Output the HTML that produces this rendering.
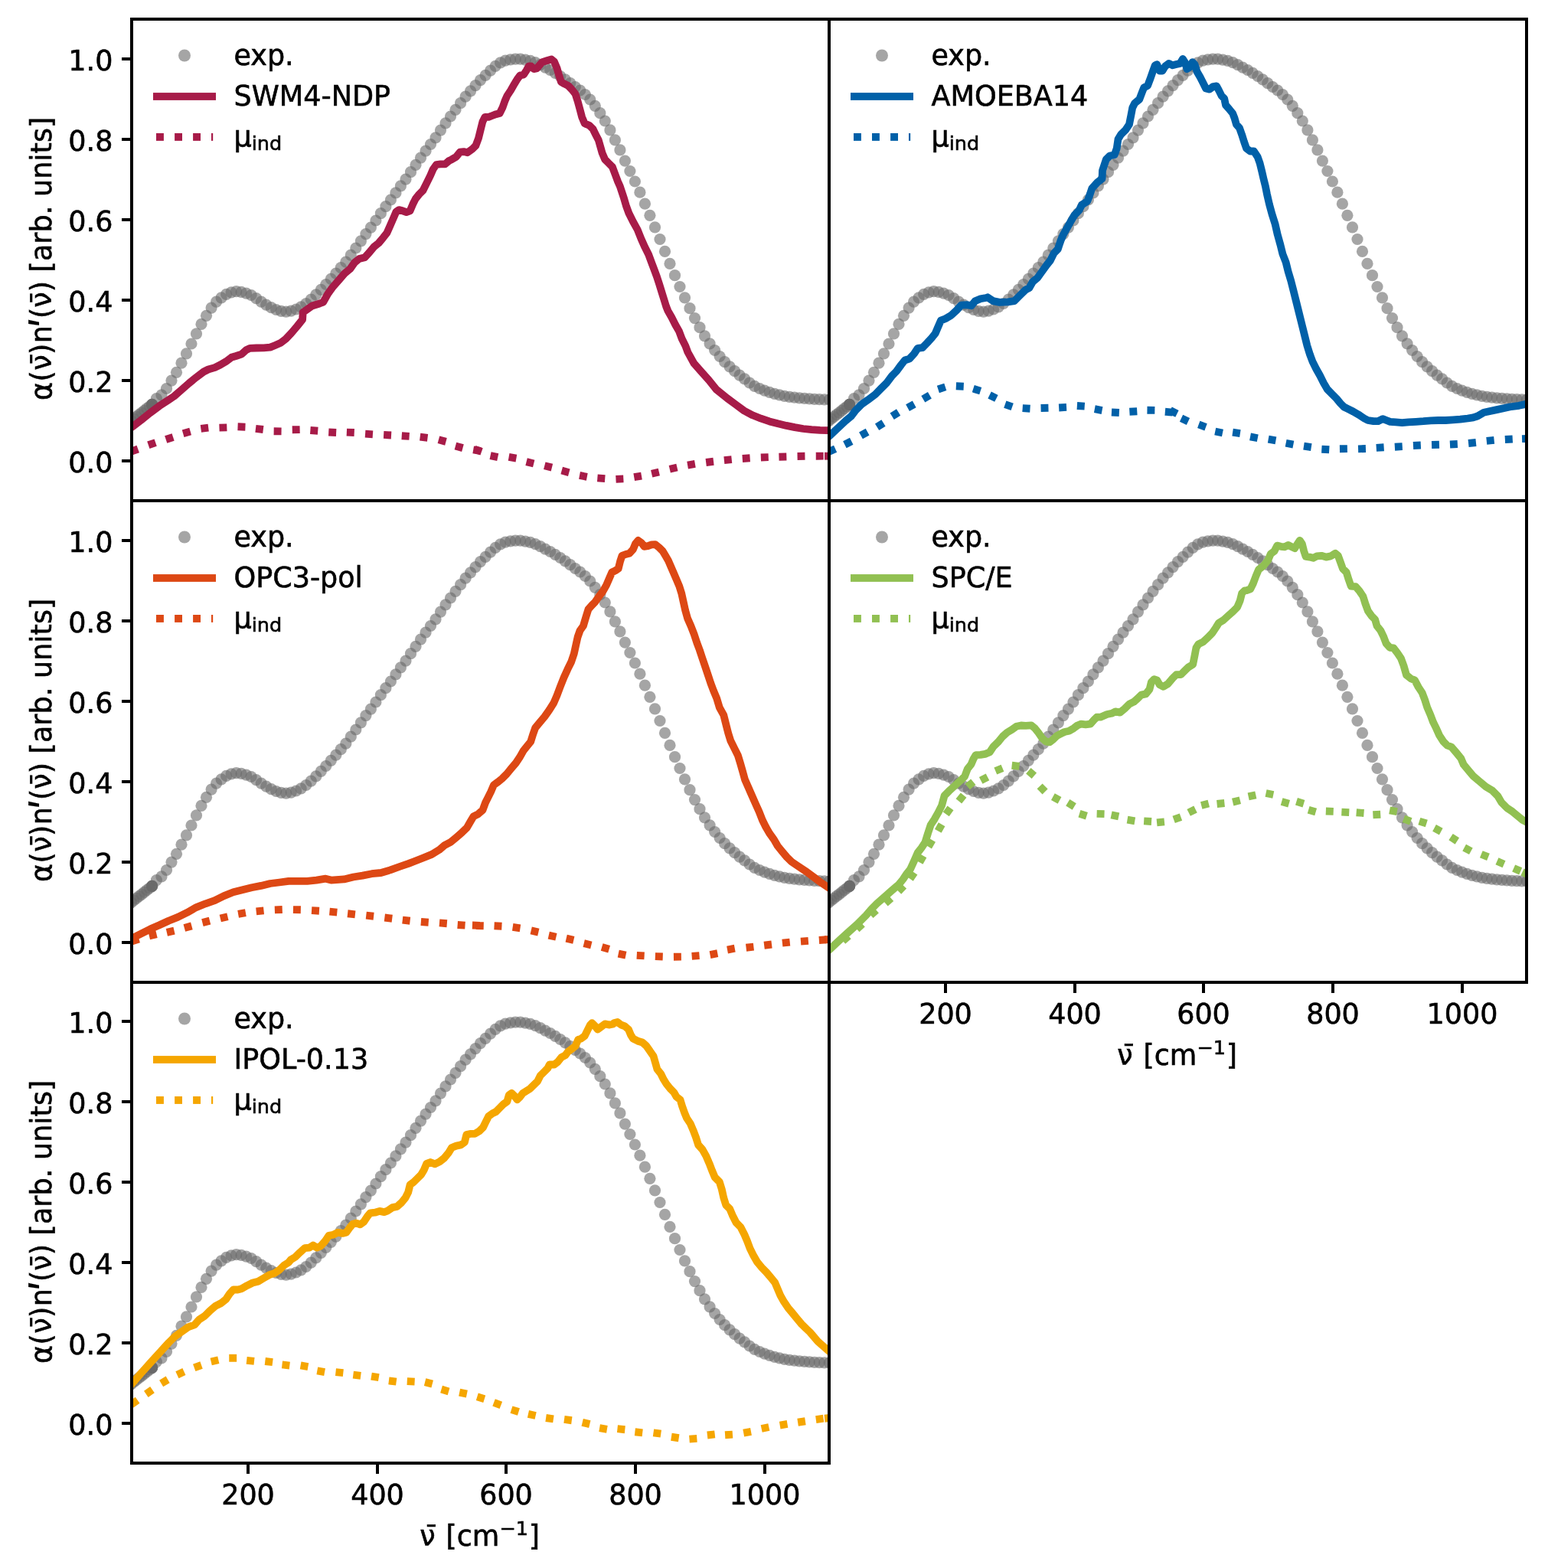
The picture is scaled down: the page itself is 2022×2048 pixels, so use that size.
<!DOCTYPE html>
<html lang="en"><head><meta charset="utf-8"><title>IR spectra</title>
<style>html,body{margin:0;padding:0;background:#fff}svg{display:block}text{font-family:"DejaVu Sans","Liberation Sans",sans-serif;font-size:36.5px;fill:#000;stroke:#000;stroke-width:0.6px}</style></head><body>
<svg xmlns="http://www.w3.org/2000/svg" width="2022" height="2048" viewBox="0 0 2022 2048">
<rect width="2022" height="2048" fill="#fff"/>
<defs>
<clipPath id="c1"><rect x="172" y="25" width="911" height="629"/></clipPath>
<clipPath id="c2"><rect x="1083" y="25" width="911" height="629"/></clipPath>
<clipPath id="c3"><rect x="172" y="654" width="911" height="629"/></clipPath>
<clipPath id="c4"><rect x="1083" y="654" width="911" height="629"/></clipPath>
<clipPath id="c5"><rect x="172" y="1283" width="911" height="628"/></clipPath>
</defs>
<g clip-path="url(#c1)">
<g fill="#696969" fill-opacity="0.6"><circle cx="195.2" cy="531" r="7.6"/><circle cx="191.8" cy="533.7" r="7.6"/><circle cx="188.4" cy="536.4" r="7.6"/><circle cx="185" cy="539.1" r="7.6"/><circle cx="181.6" cy="541.7" r="7.6"/><circle cx="178.2" cy="544.4" r="7.6"/><circle cx="174.8" cy="547" r="7.6"/><circle cx="171.4" cy="549.9" r="7.6"/><circle cx="168" cy="552.7" r="7.6"/><circle cx="164.6" cy="555.6" r="7.6"/><circle cx="161.2" cy="558.5" r="7.6"/><circle cx="198.6" cy="528.3" r="7.6"/><circle cx="198.6" cy="528.3" r="7.6"/><circle cx="198.6" cy="528.3" r="7.6"/><circle cx="198.6" cy="528.3" r="7.6"/><circle cx="204.4" cy="520.6" r="7.6"/><circle cx="211" cy="515.9" r="7.6"/><circle cx="217.5" cy="507.5" r="7.6"/><circle cx="224" cy="497.1" r="7.6"/><circle cx="230.5" cy="486.3" r="7.6"/><circle cx="237" cy="474.2" r="7.6"/><circle cx="243.5" cy="461.9" r="7.6"/><circle cx="250" cy="449" r="7.6"/><circle cx="256.5" cy="435.9" r="7.6"/><circle cx="263" cy="423.4" r="7.6"/><circle cx="269.5" cy="412.3" r="7.6"/><circle cx="276.1" cy="402.1" r="7.6"/><circle cx="282.6" cy="394.1" r="7.6"/><circle cx="289.1" cy="388.9" r="7.6"/><circle cx="295.6" cy="384.4" r="7.6"/><circle cx="302.1" cy="381.8" r="7.6"/><circle cx="308.6" cy="380.7" r="7.6"/><circle cx="315.1" cy="381.4" r="7.6"/><circle cx="321.6" cy="383.2" r="7.6"/><circle cx="328.1" cy="385.5" r="7.6"/><circle cx="334.6" cy="389.7" r="7.6"/><circle cx="341.2" cy="394.1" r="7.6"/><circle cx="347.7" cy="398.2" r="7.6"/><circle cx="354.2" cy="401.7" r="7.6"/><circle cx="360.7" cy="404.5" r="7.6"/><circle cx="367.2" cy="406.3" r="7.6"/><circle cx="373.7" cy="407.2" r="7.6"/><circle cx="380.2" cy="406.1" r="7.6"/><circle cx="386.7" cy="404" r="7.6"/><circle cx="393.2" cy="400.8" r="7.6"/><circle cx="399.8" cy="396.5" r="7.6"/><circle cx="406.3" cy="391.1" r="7.6"/><circle cx="412.8" cy="384.9" r="7.6"/><circle cx="419.3" cy="378.4" r="7.6"/><circle cx="425.8" cy="371.5" r="7.6"/><circle cx="432.3" cy="364.3" r="7.6"/><circle cx="438.8" cy="357.2" r="7.6"/><circle cx="445.3" cy="349.7" r="7.6"/><circle cx="451.8" cy="342.2" r="7.6"/><circle cx="458.3" cy="333.2" r="7.6"/><circle cx="464.8" cy="324" r="7.6"/><circle cx="471.4" cy="314.8" r="7.6"/><circle cx="477.9" cy="305.6" r="7.6"/><circle cx="484.4" cy="297.1" r="7.6"/><circle cx="490.9" cy="288" r="7.6"/><circle cx="497.4" cy="278.7" r="7.6"/><circle cx="503.9" cy="269.7" r="7.6"/><circle cx="510.4" cy="261" r="7.6"/><circle cx="516.9" cy="251.9" r="7.6"/><circle cx="523.4" cy="242.9" r="7.6"/><circle cx="530" cy="234.1" r="7.6"/><circle cx="536.5" cy="224.7" r="7.6"/><circle cx="543" cy="215.3" r="7.6"/><circle cx="549.5" cy="206.2" r="7.6"/><circle cx="556" cy="197.2" r="7.6"/><circle cx="562.5" cy="188.5" r="7.6"/><circle cx="569" cy="179.8" r="7.6"/><circle cx="575.5" cy="170.1" r="7.6"/><circle cx="582" cy="160.9" r="7.6"/><circle cx="588.5" cy="152" r="7.6"/><circle cx="595" cy="143.3" r="7.6"/><circle cx="601.6" cy="134.7" r="7.6"/><circle cx="608.1" cy="126.2" r="7.6"/><circle cx="614.6" cy="118.8" r="7.6"/><circle cx="621.1" cy="111.6" r="7.6"/><circle cx="627.6" cy="104.6" r="7.6"/><circle cx="634.1" cy="98.3" r="7.6"/><circle cx="640.6" cy="92.2" r="7.6"/><circle cx="647.1" cy="86.3" r="7.6"/><circle cx="653.6" cy="81.9" r="7.6"/><circle cx="660.1" cy="79.2" r="7.6"/><circle cx="666.7" cy="77.8" r="7.6"/><circle cx="673.2" cy="77.1" r="7.6"/><circle cx="679.7" cy="77.2" r="7.6"/><circle cx="686.2" cy="78.1" r="7.6"/><circle cx="692.7" cy="79.4" r="7.6"/><circle cx="699.2" cy="81.6" r="7.6"/><circle cx="705.7" cy="84.7" r="7.6"/><circle cx="712.2" cy="88.1" r="7.6"/><circle cx="718.7" cy="91.5" r="7.6"/><circle cx="725.2" cy="95.3" r="7.6"/><circle cx="731.8" cy="99.5" r="7.6"/><circle cx="738.3" cy="103.9" r="7.6"/><circle cx="744.8" cy="108.7" r="7.6"/><circle cx="751.3" cy="113.5" r="7.6"/><circle cx="757.8" cy="118" r="7.6"/><circle cx="764.3" cy="123.5" r="7.6"/><circle cx="770.8" cy="130" r="7.6"/><circle cx="777.3" cy="138.3" r="7.6"/><circle cx="783.8" cy="147.7" r="7.6"/><circle cx="790.3" cy="158" r="7.6"/><circle cx="796.9" cy="169.9" r="7.6"/><circle cx="803.4" cy="182.9" r="7.6"/><circle cx="809.9" cy="195.9" r="7.6"/><circle cx="816.4" cy="210.1" r="7.6"/><circle cx="822.9" cy="223.5" r="7.6"/><circle cx="829.4" cy="237" r="7.6"/><circle cx="835.9" cy="251.2" r="7.6"/><circle cx="842.4" cy="266.2" r="7.6"/><circle cx="848.9" cy="281.3" r="7.6"/><circle cx="855.5" cy="296.9" r="7.6"/><circle cx="862" cy="312.5" r="7.6"/><circle cx="868.5" cy="328.4" r="7.6"/><circle cx="875" cy="344.4" r="7.6"/><circle cx="881.5" cy="359.7" r="7.6"/><circle cx="888" cy="374.5" r="7.6"/><circle cx="894.5" cy="388.9" r="7.6"/><circle cx="901" cy="402.7" r="7.6"/><circle cx="907.5" cy="415.6" r="7.6"/><circle cx="914" cy="427.7" r="7.6"/><circle cx="920.5" cy="438.8" r="7.6"/><circle cx="927.1" cy="448.8" r="7.6"/><circle cx="933.6" cy="457.5" r="7.6"/><circle cx="940.1" cy="465.5" r="7.6"/><circle cx="946.6" cy="472.7" r="7.6"/><circle cx="953.1" cy="478.8" r="7.6"/><circle cx="959.6" cy="484.7" r="7.6"/><circle cx="966.1" cy="490.2" r="7.6"/><circle cx="972.6" cy="494.9" r="7.6"/><circle cx="979.1" cy="500" r="7.6"/><circle cx="985.6" cy="504.4" r="7.6"/><circle cx="992.2" cy="507.5" r="7.6"/><circle cx="998.7" cy="510.1" r="7.6"/><circle cx="1005.2" cy="512.3" r="7.6"/><circle cx="1011.7" cy="514.3" r="7.6"/><circle cx="1018.2" cy="515.9" r="7.6"/><circle cx="1024.7" cy="517.3" r="7.6"/><circle cx="1031.2" cy="518.4" r="7.6"/><circle cx="1037.7" cy="519.2" r="7.6"/><circle cx="1044.2" cy="519.9" r="7.6"/><circle cx="1050.8" cy="520.4" r="7.6"/><circle cx="1057.3" cy="520.9" r="7.6"/><circle cx="1063.8" cy="521.3" r="7.6"/><circle cx="1070.3" cy="521.6" r="7.6"/><circle cx="1076.8" cy="521.8" r="7.6"/><circle cx="1083.3" cy="522" r="7.6"/><circle cx="1089.8" cy="522" r="7.6"/></g>
<g fill="#a71b48"><rect x="-4.95" y="-4.95" width="9.9" height="9.9" transform="translate(175.6 588.2) rotate(-20.2)"/><rect x="-4.95" y="-4.95" width="9.9" height="9.9" transform="translate(198.5 579.7) rotate(-18.9)"/><rect x="-4.95" y="-4.95" width="9.9" height="9.9" transform="translate(221.4 572.5) rotate(-18.3)"/><rect x="-4.95" y="-4.95" width="9.9" height="9.9" transform="translate(243.9 564.8) rotate(-16.1)"/><rect x="-4.95" y="-4.95" width="9.9" height="9.9" transform="translate(267.3 559.2) rotate(-7.5)"/><rect x="-4.95" y="-4.95" width="9.9" height="9.9" transform="translate(291.4 558.5) rotate(-2)"/><rect x="-4.95" y="-4.95" width="9.9" height="9.9" transform="translate(315.5 557.5) rotate(2.3)"/><rect x="-4.95" y="-4.95" width="9.9" height="9.9" transform="translate(338.9 560.4) rotate(7)"/><rect x="-4.95" y="-4.95" width="9.9" height="9.9" transform="translate(362.6 563.3) rotate(0.9)"/><rect x="-4.95" y="-4.95" width="9.9" height="9.9" transform="translate(386.7 561.2) rotate(-1.2)"/><rect x="-4.95" y="-4.95" width="9.9" height="9.9" transform="translate(410.3 562.4) rotate(4.4)"/><rect x="-4.95" y="-4.95" width="9.9" height="9.9" transform="translate(434.2 564.8) rotate(2.9)"/><rect x="-4.95" y="-4.95" width="9.9" height="9.9" transform="translate(457.8 564.8) rotate(2.6)"/><rect x="-4.95" y="-4.95" width="9.9" height="9.9" transform="translate(482 567) rotate(4)"/><rect x="-4.95" y="-4.95" width="9.9" height="9.9" transform="translate(506.1 568.2) rotate(3.2)"/><rect x="-4.95" y="-4.95" width="9.9" height="9.9" transform="translate(529.7 569.6) rotate(3.8)"/><rect x="-4.95" y="-4.95" width="9.9" height="9.9" transform="translate(553.6 571.3) rotate(7.2)"/><rect x="-4.95" y="-4.95" width="9.9" height="9.9" transform="translate(577.7 575.6) rotate(15.2)"/><rect x="-4.95" y="-4.95" width="9.9" height="9.9" transform="translate(599.7 583.8) rotate(15.5)"/><rect x="-4.95" y="-4.95" width="9.9" height="9.9" transform="translate(623.1 588.2) rotate(10)"/><rect x="-4.95" y="-4.95" width="9.9" height="9.9" transform="translate(624.4 588.2) rotate(19.6)"/><rect x="-4.95" y="-4.95" width="9.9" height="9.9" transform="translate(645.4 596.1) rotate(12.1)"/><rect x="-4.95" y="-4.95" width="9.9" height="9.9" transform="translate(669.5 597.8) rotate(9.9)"/><rect x="-4.95" y="-4.95" width="9.9" height="9.9" transform="translate(692.4 604.3) rotate(14)"/><rect x="-4.95" y="-4.95" width="9.9" height="9.9" transform="translate(716.1 609.4) rotate(14.1)"/><rect x="-4.95" y="-4.95" width="9.9" height="9.9" transform="translate(738.5 615.9) rotate(15.3)"/><rect x="-4.95" y="-4.95" width="9.9" height="9.9" transform="translate(761.9 621.9) rotate(10.8)"/><rect x="-4.95" y="-4.95" width="9.9" height="9.9" transform="translate(785.3 624.8) rotate(4.4)"/><rect x="-4.95" y="-4.95" width="9.9" height="9.9" transform="translate(809.4 625.6) rotate(-2.9)"/><rect x="-4.95" y="-4.95" width="9.9" height="9.9" transform="translate(833.1 622.4) rotate(-9.7)"/><rect x="-4.95" y="-4.95" width="9.9" height="9.9" transform="translate(856 617.6) rotate(-13.1)"/><rect x="-4.95" y="-4.95" width="9.9" height="9.9" transform="translate(879.6 611.6) rotate(-13)"/><rect x="-4.95" y="-4.95" width="9.9" height="9.9" transform="translate(903 606.8) rotate(-9.8)"/><rect x="-4.95" y="-4.95" width="9.9" height="9.9" transform="translate(927.1 603.4) rotate(-7.2)"/><rect x="-4.95" y="-4.95" width="9.9" height="9.9" transform="translate(950.8 600.7) rotate(-5.8)"/><rect x="-4.95" y="-4.95" width="9.9" height="9.9" transform="translate(974.7 598.6) rotate(-4)"/><rect x="-4.95" y="-4.95" width="9.9" height="9.9" transform="translate(998.8 597.3) rotate(-2.3)"/><rect x="-4.95" y="-4.95" width="9.9" height="9.9" transform="translate(1022.4 596.6) rotate(-1.7)"/><rect x="-4.95" y="-4.95" width="9.9" height="9.9" transform="translate(1046.5 595.9) rotate(-1.1)"/><rect x="-4.95" y="-4.95" width="9.9" height="9.9" transform="translate(1070.7 595.7) rotate(-0.4)"/><rect x="-4.95" y="-4.95" width="9.9" height="9.9" transform="translate(1082 595.7) rotate(0)"/></g>
<polyline fill="none" stroke="#a71b48" stroke-width="9.8" stroke-linejoin="round" points="160,566.7 167.2,561.5 173.8,556.7 184.1,548.9 196.1,539.2 208.2,530.2 220.2,522.3 227.5,517.5 237.1,509.1 246.8,500.6 256.4,492.8 266.1,485.5 272.1,482.5 280.5,480.1 287.8,476.5 295,472.3 302.3,466.8 308.3,465 315.5,462.6 321.6,457.2 326.4,454.8 334.8,454.5 344.5,454.3 352.9,453.6 358.9,451.2 366.2,448.1 373.4,442.7 380.7,434.9 387.9,426.4 395.1,417.4 395.7,407.9 407.7,399.5 417.4,396.5 422.2,394.7 428.2,383.8 434.3,375.4 442.7,365.7 450,357.3 457.2,351.3 463.2,342.8 469.3,338 476.5,336.2 482.5,329.6 488.5,322.3 494.6,317.5 500.6,310.3 505.4,304.2 509.7,294.6 513.9,284.9 517.5,276.5 521.1,274.1 525.9,275.3 530.8,277.1 535.6,275.3 539.2,266.8 542.8,259.6 547.6,253.6 552.5,248.7 557.3,239.1 562.1,229.4 565.7,221 570,215 575.4,214.4 581.4,214.4 586.2,210.2 590,208.3 596,204.7 600.9,198.7 605.7,198.1 610.5,199.3 616.5,195.1 621.4,190.2 625,180.6 627.4,170.9 630.4,158.9 633.4,152.8 638.2,152.8 643.1,151 647.9,149.2 652.7,148 656.3,140.8 659.3,132.3 662.4,125.1 667.2,117.9 672,109.4 675.6,103.4 679.3,98.6 684.1,97.4 687.7,91.9 690.7,86.5 693.7,86.5 697.3,90.1 701,89.5 704.6,85.3 708.2,81.1 714.2,79.3 720.3,77.5 723.9,80.5 727.5,88.9 729.9,97.4 732.9,107 737.1,109.4 742,111.8 746.8,116.7 751.6,122.7 754.6,132.3 757.6,143.2 760.1,152.8 763.7,161.3 769.7,163.7 774.5,168.5 778.1,175.8 781.8,183 784.2,191.4 786.6,199.9 790.2,208.3 795,213.1 799.9,218 803.5,227.6 807.1,237.3 809.8,243.3 814.6,257.7 818.2,269.8 821.3,278.2 826.7,289.1 832.7,300 837.5,312 842.4,322.9 847.2,332.5 850.8,342.2 854.4,351.8 858,361.5 861.1,371.1 864.1,380.8 867.1,390.4 870.1,400.1 872.5,406.1 877.3,414.5 882.2,424.2 887,432.6 890.6,442.3 895.4,451.9 898.4,460 906.6,474.8 916.3,485.7 925.9,496.5 935.6,508.6 950,520.3 961,528.4 972,536.5 983,542.3 994.1,546.7 1005.1,550.4 1016.1,553.3 1027.1,555.9 1038.1,558.1 1049.1,560 1060.1,561.2 1071.1,561.9 1081.1,562.2 1096.8,562.4"/>
</g>
<circle cx="241" cy="72.5" r="8" fill="#696969" fill-opacity="0.6"/>
<rect x="200" y="121.1" width="82" height="9.8" fill="#a71b48"/>
<rect x="204" y="174" width="9.9" height="9.9" fill="#a71b48"/>
<rect x="228.1" y="174" width="9.9" height="9.9" fill="#a71b48"/>
<rect x="252.1" y="174" width="9.9" height="9.9" fill="#a71b48"/>
<rect x="276" y="174" width="2.2" height="9.9" fill="#a71b48"/>
<text x="305.5" y="85.3">exp.</text>
<text x="305.5" y="138.3">SWM4-NDP</text>
<text x="305.5" y="190.6">μ<tspan font-size="25.5" dy="5.6">ind</tspan></text>
<rect x="172" y="25" width="911" height="629" fill="none" stroke="#000" stroke-width="4"/>
<rect x="159" y="600" width="12" height="4"/>
<text x="147.4" y="616.6" text-anchor="end">0.0</text>
<rect x="159" y="495" width="12" height="4"/>
<text x="147.4" y="511.6" text-anchor="end">0.2</text>
<rect x="159" y="390" width="12" height="4"/>
<text x="147.4" y="406.6" text-anchor="end">0.4</text>
<rect x="159" y="285" width="12" height="4"/>
<text x="147.4" y="301.6" text-anchor="end">0.6</text>
<rect x="159" y="180" width="12" height="4"/>
<text x="147.4" y="196.6" text-anchor="end">0.8</text>
<rect x="159" y="75" width="12" height="4"/>
<text x="147.4" y="91.6" text-anchor="end">1.0</text>
<g transform="translate(67.3 521.5) rotate(-90)">
<text x="-1.6" y="0" textLength="98.1" lengthAdjust="spacing">α(ν)n</text>
<text x="92.2" y="15.8" style="font-size:56.6px;stroke-width:0.1px">ʹ</text>
<text x="105.4" y="0" textLength="263.4" lengthAdjust="spacing">(ν) [arb. units]</text>
<text x="43.6" y="0">¯</text>
<text x="123.2" y="0">¯</text>
</g>
<g clip-path="url(#c2)">
<g fill="#696969" fill-opacity="0.6"><circle cx="1106.2" cy="531" r="7.6"/><circle cx="1102.8" cy="533.7" r="7.6"/><circle cx="1099.4" cy="536.4" r="7.6"/><circle cx="1096" cy="539.1" r="7.6"/><circle cx="1092.6" cy="541.7" r="7.6"/><circle cx="1089.2" cy="544.4" r="7.6"/><circle cx="1085.8" cy="547" r="7.6"/><circle cx="1082.4" cy="549.9" r="7.6"/><circle cx="1079" cy="552.7" r="7.6"/><circle cx="1075.6" cy="555.6" r="7.6"/><circle cx="1072.2" cy="558.5" r="7.6"/><circle cx="1109.6" cy="528.3" r="7.6"/><circle cx="1109.6" cy="528.3" r="7.6"/><circle cx="1109.6" cy="528.3" r="7.6"/><circle cx="1109.6" cy="528.3" r="7.6"/><circle cx="1115.5" cy="520.6" r="7.6"/><circle cx="1122" cy="515.9" r="7.6"/><circle cx="1128.5" cy="507.5" r="7.6"/><circle cx="1135" cy="497.1" r="7.6"/><circle cx="1141.5" cy="486.3" r="7.6"/><circle cx="1148" cy="474.2" r="7.6"/><circle cx="1154.5" cy="461.9" r="7.6"/><circle cx="1161" cy="449" r="7.6"/><circle cx="1167.5" cy="435.9" r="7.6"/><circle cx="1174" cy="423.4" r="7.6"/><circle cx="1180.5" cy="412.3" r="7.6"/><circle cx="1187.1" cy="402.1" r="7.6"/><circle cx="1193.6" cy="394.1" r="7.6"/><circle cx="1200.1" cy="388.9" r="7.6"/><circle cx="1206.6" cy="384.4" r="7.6"/><circle cx="1213.1" cy="381.8" r="7.6"/><circle cx="1219.6" cy="380.7" r="7.6"/><circle cx="1226.1" cy="381.4" r="7.6"/><circle cx="1232.6" cy="383.2" r="7.6"/><circle cx="1239.1" cy="385.5" r="7.6"/><circle cx="1245.7" cy="389.7" r="7.6"/><circle cx="1252.2" cy="394.1" r="7.6"/><circle cx="1258.7" cy="398.2" r="7.6"/><circle cx="1265.2" cy="401.7" r="7.6"/><circle cx="1271.7" cy="404.5" r="7.6"/><circle cx="1278.2" cy="406.3" r="7.6"/><circle cx="1284.7" cy="407.2" r="7.6"/><circle cx="1291.2" cy="406.1" r="7.6"/><circle cx="1297.7" cy="404" r="7.6"/><circle cx="1304.2" cy="400.8" r="7.6"/><circle cx="1310.8" cy="396.5" r="7.6"/><circle cx="1317.3" cy="391.1" r="7.6"/><circle cx="1323.8" cy="384.9" r="7.6"/><circle cx="1330.3" cy="378.4" r="7.6"/><circle cx="1336.8" cy="371.5" r="7.6"/><circle cx="1343.3" cy="364.3" r="7.6"/><circle cx="1349.8" cy="357.2" r="7.6"/><circle cx="1356.3" cy="349.7" r="7.6"/><circle cx="1362.8" cy="342.2" r="7.6"/><circle cx="1369.3" cy="333.2" r="7.6"/><circle cx="1375.8" cy="324" r="7.6"/><circle cx="1382.4" cy="314.8" r="7.6"/><circle cx="1388.9" cy="305.6" r="7.6"/><circle cx="1395.4" cy="297.1" r="7.6"/><circle cx="1401.9" cy="288" r="7.6"/><circle cx="1408.4" cy="278.7" r="7.6"/><circle cx="1414.9" cy="269.7" r="7.6"/><circle cx="1421.4" cy="261" r="7.6"/><circle cx="1427.9" cy="251.9" r="7.6"/><circle cx="1434.4" cy="242.9" r="7.6"/><circle cx="1441" cy="234.1" r="7.6"/><circle cx="1447.5" cy="224.7" r="7.6"/><circle cx="1454" cy="215.3" r="7.6"/><circle cx="1460.5" cy="206.2" r="7.6"/><circle cx="1467" cy="197.2" r="7.6"/><circle cx="1473.5" cy="188.5" r="7.6"/><circle cx="1480" cy="179.8" r="7.6"/><circle cx="1486.5" cy="170.1" r="7.6"/><circle cx="1493" cy="160.9" r="7.6"/><circle cx="1499.5" cy="152" r="7.6"/><circle cx="1506" cy="143.3" r="7.6"/><circle cx="1512.6" cy="134.7" r="7.6"/><circle cx="1519.1" cy="126.2" r="7.6"/><circle cx="1525.6" cy="118.8" r="7.6"/><circle cx="1532.1" cy="111.6" r="7.6"/><circle cx="1538.6" cy="104.6" r="7.6"/><circle cx="1545.1" cy="98.3" r="7.6"/><circle cx="1551.6" cy="92.2" r="7.6"/><circle cx="1558.1" cy="86.3" r="7.6"/><circle cx="1564.6" cy="81.9" r="7.6"/><circle cx="1571.2" cy="79.2" r="7.6"/><circle cx="1577.7" cy="77.8" r="7.6"/><circle cx="1584.2" cy="77.1" r="7.6"/><circle cx="1590.7" cy="77.2" r="7.6"/><circle cx="1597.2" cy="78.1" r="7.6"/><circle cx="1603.7" cy="79.4" r="7.6"/><circle cx="1610.2" cy="81.6" r="7.6"/><circle cx="1616.7" cy="84.7" r="7.6"/><circle cx="1623.2" cy="88.1" r="7.6"/><circle cx="1629.7" cy="91.5" r="7.6"/><circle cx="1636.2" cy="95.3" r="7.6"/><circle cx="1642.8" cy="99.5" r="7.6"/><circle cx="1649.3" cy="103.9" r="7.6"/><circle cx="1655.8" cy="108.7" r="7.6"/><circle cx="1662.3" cy="113.5" r="7.6"/><circle cx="1668.8" cy="118" r="7.6"/><circle cx="1675.3" cy="123.5" r="7.6"/><circle cx="1681.8" cy="130" r="7.6"/><circle cx="1688.3" cy="138.3" r="7.6"/><circle cx="1694.8" cy="147.7" r="7.6"/><circle cx="1701.3" cy="158" r="7.6"/><circle cx="1707.9" cy="169.9" r="7.6"/><circle cx="1714.4" cy="182.9" r="7.6"/><circle cx="1720.9" cy="195.9" r="7.6"/><circle cx="1727.4" cy="210.1" r="7.6"/><circle cx="1733.9" cy="223.5" r="7.6"/><circle cx="1740.4" cy="237" r="7.6"/><circle cx="1746.9" cy="251.2" r="7.6"/><circle cx="1753.4" cy="266.2" r="7.6"/><circle cx="1759.9" cy="281.3" r="7.6"/><circle cx="1766.5" cy="296.9" r="7.6"/><circle cx="1773" cy="312.5" r="7.6"/><circle cx="1779.5" cy="328.4" r="7.6"/><circle cx="1786" cy="344.4" r="7.6"/><circle cx="1792.5" cy="359.7" r="7.6"/><circle cx="1799" cy="374.5" r="7.6"/><circle cx="1805.5" cy="388.9" r="7.6"/><circle cx="1812" cy="402.7" r="7.6"/><circle cx="1818.5" cy="415.6" r="7.6"/><circle cx="1825" cy="427.7" r="7.6"/><circle cx="1831.5" cy="438.8" r="7.6"/><circle cx="1838.1" cy="448.8" r="7.6"/><circle cx="1844.6" cy="457.5" r="7.6"/><circle cx="1851.1" cy="465.5" r="7.6"/><circle cx="1857.6" cy="472.7" r="7.6"/><circle cx="1864.1" cy="478.8" r="7.6"/><circle cx="1870.6" cy="484.7" r="7.6"/><circle cx="1877.1" cy="490.2" r="7.6"/><circle cx="1883.6" cy="494.9" r="7.6"/><circle cx="1890.1" cy="500" r="7.6"/><circle cx="1896.6" cy="504.4" r="7.6"/><circle cx="1903.2" cy="507.5" r="7.6"/><circle cx="1909.7" cy="510.1" r="7.6"/><circle cx="1916.2" cy="512.3" r="7.6"/><circle cx="1922.7" cy="514.3" r="7.6"/><circle cx="1929.2" cy="515.9" r="7.6"/><circle cx="1935.7" cy="517.3" r="7.6"/><circle cx="1942.2" cy="518.4" r="7.6"/><circle cx="1948.7" cy="519.2" r="7.6"/><circle cx="1955.2" cy="519.9" r="7.6"/><circle cx="1961.8" cy="520.4" r="7.6"/><circle cx="1968.3" cy="520.9" r="7.6"/><circle cx="1974.8" cy="521.3" r="7.6"/><circle cx="1981.3" cy="521.6" r="7.6"/><circle cx="1987.8" cy="521.8" r="7.6"/><circle cx="1994.3" cy="522" r="7.6"/><circle cx="2000.8" cy="522" r="7.6"/></g>
<g fill="#0060a8"><rect x="-4.95" y="-4.95" width="9.9" height="9.9" transform="translate(1086.6 588.2) rotate(-24.4)"/><rect x="-4.95" y="-4.95" width="9.9" height="9.9" transform="translate(1107.8 578.5) rotate(-27.2)"/><rect x="-4.95" y="-4.95" width="9.9" height="9.9" transform="translate(1128.8 566.5) rotate(-29.1)"/><rect x="-4.95" y="-4.95" width="9.9" height="9.9" transform="translate(1149.8 555.1) rotate(-32)"/><rect x="-4.95" y="-4.95" width="9.9" height="9.9" transform="translate(1169.4 541.1) rotate(-31.8)"/><rect x="-4.95" y="-4.95" width="9.9" height="9.9" transform="translate(1189.9 530.3) rotate(-28.8)"/><rect x="-4.95" y="-4.95" width="9.9" height="9.9" transform="translate(1210.1 518.7) rotate(-30.1)"/><rect x="-4.95" y="-4.95" width="9.9" height="9.9" transform="translate(1230.1 506.9) rotate(-18.1)"/><rect x="-4.95" y="-4.95" width="9.9" height="9.9" transform="translate(1253.8 504.5) rotate(2.7)"/><rect x="-4.95" y="-4.95" width="9.9" height="9.9" transform="translate(1276 509.1) rotate(17.7)"/><rect x="-4.95" y="-4.95" width="9.9" height="9.9" transform="translate(1297 518.2) rotate(26.6)"/><rect x="-4.95" y="-4.95" width="9.9" height="9.9" transform="translate(1317.5 529.8) rotate(19.2)"/><rect x="-4.95" y="-4.95" width="9.9" height="9.9" transform="translate(1340.6 533.4) rotate(3.8)"/><rect x="-4.95" y="-4.95" width="9.9" height="9.9" transform="translate(1364.5 532.9) rotate(-1.5)"/><rect x="-4.95" y="-4.95" width="9.9" height="9.9" transform="translate(1388.1 532.2) rotate(-3.2)"/><rect x="-4.95" y="-4.95" width="9.9" height="9.9" transform="translate(1411.8 530.3) rotate(3.6)"/><rect x="-4.95" y="-4.95" width="9.9" height="9.9" transform="translate(1434.7 535.1) rotate(10.6)"/><rect x="-4.95" y="-4.95" width="9.9" height="9.9" transform="translate(1456.9 538.7) rotate(3)"/><rect x="-4.95" y="-4.95" width="9.9" height="9.9" transform="translate(1480.3 537.5) rotate(-3.6)"/><rect x="-4.95" y="-4.95" width="9.9" height="9.9" transform="translate(1503.4 535.8) rotate(0.9)"/><rect x="-4.95" y="-4.95" width="9.9" height="9.9" transform="translate(1526.8 538.2) rotate(4.7)"/><rect x="-4.95" y="-4.95" width="9.9" height="9.9" transform="translate(1533 538.2) rotate(26.2)"/><rect x="-4.95" y="-4.95" width="9.9" height="9.9" transform="translate(1547.5 548.4) rotate(25.5)"/><rect x="-4.95" y="-4.95" width="9.9" height="9.9" transform="translate(1570.4 556.1) rotate(19.9)"/><rect x="-4.95" y="-4.95" width="9.9" height="9.9" transform="translate(1592.1 564.5) rotate(11.6)"/><rect x="-4.95" y="-4.95" width="9.9" height="9.9" transform="translate(1615 565.3) rotate(8.4)"/><rect x="-4.95" y="-4.95" width="9.9" height="9.9" transform="translate(1637.9 571.3) rotate(11.1)"/><rect x="-4.95" y="-4.95" width="9.9" height="9.9" transform="translate(1661.6 574.4) rotate(10.3)"/><rect x="-4.95" y="-4.95" width="9.9" height="9.9" transform="translate(1684.5 579.7) rotate(10.9)"/><rect x="-4.95" y="-4.95" width="9.9" height="9.9" transform="translate(1707.9 583.4) rotate(8.8)"/><rect x="-4.95" y="-4.95" width="9.9" height="9.9" transform="translate(1731.3 587) rotate(3.5)"/><rect x="-4.95" y="-4.95" width="9.9" height="9.9" transform="translate(1754.9 586.2) rotate(-0.9)"/><rect x="-4.95" y="-4.95" width="9.9" height="9.9" transform="translate(1779 586.2) rotate(-2)"/><rect x="-4.95" y="-4.95" width="9.9" height="9.9" transform="translate(1802.7 584.6) rotate(-3.5)"/><rect x="-4.95" y="-4.95" width="9.9" height="9.9" transform="translate(1826.8 583.4) rotate(-3.4)"/><rect x="-4.95" y="-4.95" width="9.9" height="9.9" transform="translate(1850.9 581.7) rotate(-2.9)"/><rect x="-4.95" y="-4.95" width="9.9" height="9.9" transform="translate(1875 580.9) rotate(-1.7)"/><rect x="-4.95" y="-4.95" width="9.9" height="9.9" transform="translate(1898.9 580.2) rotate(-2.9)"/><rect x="-4.95" y="-4.95" width="9.9" height="9.9" transform="translate(1923 578.5) rotate(-5.8)"/><rect x="-4.95" y="-4.95" width="9.9" height="9.9" transform="translate(1946.7 575.4) rotate(-5.8)"/><rect x="-4.95" y="-4.95" width="9.9" height="9.9" transform="translate(1970.8 573.7) rotate(-3)"/><rect x="-4.95" y="-4.95" width="9.9" height="9.9" transform="translate(1993 573) rotate(-1.9)"/></g>
<polyline fill="none" stroke="#0060a8" stroke-width="9.8" stroke-linejoin="round" points="1071,581.2 1078.2,574.4 1084.8,568.1 1095.1,558.5 1104.7,549.5 1111.9,543.4 1118,535.6 1125.2,528.3 1133.7,522.3 1143.3,515.1 1150.5,507.8 1157.8,500.6 1165,491 1171,484.9 1177.1,476.5 1181.9,470.5 1187.9,468.6 1194,462 1198.8,454.8 1204.8,454.2 1210.8,448.1 1216.9,441.5 1221.7,435.5 1225.3,427 1228.9,418.6 1235,416.2 1242.2,412 1249.4,405.3 1255.5,398.7 1262.7,398.1 1268.7,399.3 1273.6,393.3 1280.8,390.3 1288,389 1290,388.3 1297.2,393.1 1305.7,394.9 1316.5,394.3 1325,393.1 1332.2,385.9 1339.4,378.7 1344.3,376.2 1349.1,367.8 1355.1,363 1361.2,354.5 1367.2,346.1 1372,340.1 1376.8,330.4 1381.7,325.6 1385.3,314.7 1388.9,306.3 1393.7,297.8 1398.5,289.4 1403.4,281 1409.4,274.9 1413,267.7 1420.3,262.9 1423.9,253.2 1426.3,246 1433.5,238.1 1439.6,233.3 1440,222.8 1444.8,208.3 1449.6,203.5 1455.7,202.3 1458.7,193.9 1460.5,181.8 1464.1,175.8 1470.2,169.7 1475,162.5 1477.4,150.4 1479.2,140.8 1482.2,134.8 1488.2,129.9 1491.9,120.3 1494.3,114.3 1499.1,111.8 1502.7,102.2 1505.7,93.7 1508.7,85.3 1511.2,84.1 1514.8,92.5 1518.4,92.5 1522,86.5 1526.8,82.9 1531.7,85.3 1536.5,84.1 1541.3,82.9 1544.9,76.9 1547.9,81.7 1550.4,90.1 1554,87.7 1557.6,81.1 1560.6,84.1 1563.6,93.7 1567.8,101 1572.1,109.4 1575.1,115.5 1579.9,116.7 1584.7,113 1589,112.4 1592,117.9 1595.6,125.1 1599.2,128.7 1601,137.2 1605.2,142 1610.1,148 1612.5,154.1 1614.9,162.5 1619.1,167.3 1622.1,175.8 1625.1,185.4 1628.1,193.9 1633,197.5 1637.8,197.5 1642.6,204.7 1645.6,213.1 1648,222.8 1650.5,233.7 1652.9,243.3 1654.9,253.3 1657.9,266.5 1661.5,279.8 1665.7,293.1 1668.7,306.3 1672.4,319.6 1675.4,331.7 1679.6,342.5 1682.6,354.6 1686.2,366.6 1689.3,378.7 1692.3,390.8 1695.3,402.8 1698.3,414.9 1701.3,426.9 1704.3,439 1707.3,451.1 1710.9,462.7 1714.5,472.4 1719.3,482 1724.1,490.5 1728.9,500.1 1733.8,508.5 1739.8,514.6 1745.8,520.6 1750.7,526.6 1755.5,531.5 1760.3,533.9 1767.5,537.5 1774.8,541.7 1782,546.5 1786.8,549 1794.1,550.2 1800.1,550.2 1806.1,547.1 1811,549 1815.8,550.8 1823,551.4 1831.5,552.2 1839.9,551.4 1849.6,550.8 1859.2,550.2 1868.9,549.3 1878.5,549 1888.1,549 1897.8,548.3 1907.4,547.7 1917.1,546.5 1924.3,545.3 1930,543.5 1938.2,538.7 1955.1,535.1 1972,531.5 1984.1,529.8 1993,527.9 2005.8,525.5"/>
</g>
<circle cx="1152" cy="72.5" r="8" fill="#696969" fill-opacity="0.6"/>
<rect x="1111" y="121.1" width="82" height="9.8" fill="#0060a8"/>
<rect x="1115" y="174" width="9.9" height="9.9" fill="#0060a8"/>
<rect x="1139" y="174" width="9.9" height="9.9" fill="#0060a8"/>
<rect x="1163.1" y="174" width="9.9" height="9.9" fill="#0060a8"/>
<rect x="1187" y="174" width="2.2" height="9.9" fill="#0060a8"/>
<text x="1216.5" y="85.3">exp.</text>
<text x="1216.5" y="138.3">AMOEBA14</text>
<text x="1216.5" y="190.6">μ<tspan font-size="25.5" dy="5.6">ind</tspan></text>
<rect x="1083" y="25" width="911" height="629" fill="none" stroke="#000" stroke-width="4"/>
<g clip-path="url(#c3)">
<g fill="#696969" fill-opacity="0.6"><circle cx="195.2" cy="1160" r="7.6"/><circle cx="191.8" cy="1162.7" r="7.6"/><circle cx="188.4" cy="1165.4" r="7.6"/><circle cx="185" cy="1168.1" r="7.6"/><circle cx="181.6" cy="1170.7" r="7.6"/><circle cx="178.2" cy="1173.4" r="7.6"/><circle cx="174.8" cy="1176" r="7.6"/><circle cx="171.4" cy="1178.9" r="7.6"/><circle cx="168" cy="1181.7" r="7.6"/><circle cx="164.6" cy="1184.6" r="7.6"/><circle cx="161.2" cy="1187.5" r="7.6"/><circle cx="198.6" cy="1157.3" r="7.6"/><circle cx="198.6" cy="1157.3" r="7.6"/><circle cx="198.6" cy="1157.3" r="7.6"/><circle cx="198.6" cy="1157.3" r="7.6"/><circle cx="204.4" cy="1149.6" r="7.6"/><circle cx="211" cy="1144.9" r="7.6"/><circle cx="217.5" cy="1136.5" r="7.6"/><circle cx="224" cy="1126.1" r="7.6"/><circle cx="230.5" cy="1115.3" r="7.6"/><circle cx="237" cy="1103.2" r="7.6"/><circle cx="243.5" cy="1090.9" r="7.6"/><circle cx="250" cy="1078" r="7.6"/><circle cx="256.5" cy="1064.9" r="7.6"/><circle cx="263" cy="1052.4" r="7.6"/><circle cx="269.5" cy="1041.3" r="7.6"/><circle cx="276.1" cy="1031.1" r="7.6"/><circle cx="282.6" cy="1023.1" r="7.6"/><circle cx="289.1" cy="1017.9" r="7.6"/><circle cx="295.6" cy="1013.4" r="7.6"/><circle cx="302.1" cy="1010.8" r="7.6"/><circle cx="308.6" cy="1009.7" r="7.6"/><circle cx="315.1" cy="1010.4" r="7.6"/><circle cx="321.6" cy="1012.2" r="7.6"/><circle cx="328.1" cy="1014.5" r="7.6"/><circle cx="334.6" cy="1018.7" r="7.6"/><circle cx="341.2" cy="1023.1" r="7.6"/><circle cx="347.7" cy="1027.2" r="7.6"/><circle cx="354.2" cy="1030.7" r="7.6"/><circle cx="360.7" cy="1033.5" r="7.6"/><circle cx="367.2" cy="1035.3" r="7.6"/><circle cx="373.7" cy="1036.2" r="7.6"/><circle cx="380.2" cy="1035.1" r="7.6"/><circle cx="386.7" cy="1033" r="7.6"/><circle cx="393.2" cy="1029.8" r="7.6"/><circle cx="399.8" cy="1025.5" r="7.6"/><circle cx="406.3" cy="1020.1" r="7.6"/><circle cx="412.8" cy="1013.9" r="7.6"/><circle cx="419.3" cy="1007.4" r="7.6"/><circle cx="425.8" cy="1000.5" r="7.6"/><circle cx="432.3" cy="993.3" r="7.6"/><circle cx="438.8" cy="986.2" r="7.6"/><circle cx="445.3" cy="978.7" r="7.6"/><circle cx="451.8" cy="971.2" r="7.6"/><circle cx="458.3" cy="962.2" r="7.6"/><circle cx="464.8" cy="953" r="7.6"/><circle cx="471.4" cy="943.8" r="7.6"/><circle cx="477.9" cy="934.6" r="7.6"/><circle cx="484.4" cy="926.1" r="7.6"/><circle cx="490.9" cy="917" r="7.6"/><circle cx="497.4" cy="907.7" r="7.6"/><circle cx="503.9" cy="898.7" r="7.6"/><circle cx="510.4" cy="890" r="7.6"/><circle cx="516.9" cy="880.9" r="7.6"/><circle cx="523.4" cy="871.9" r="7.6"/><circle cx="530" cy="863.1" r="7.6"/><circle cx="536.5" cy="853.7" r="7.6"/><circle cx="543" cy="844.3" r="7.6"/><circle cx="549.5" cy="835.2" r="7.6"/><circle cx="556" cy="826.2" r="7.6"/><circle cx="562.5" cy="817.5" r="7.6"/><circle cx="569" cy="808.8" r="7.6"/><circle cx="575.5" cy="799.1" r="7.6"/><circle cx="582" cy="789.9" r="7.6"/><circle cx="588.5" cy="781" r="7.6"/><circle cx="595" cy="772.3" r="7.6"/><circle cx="601.6" cy="763.7" r="7.6"/><circle cx="608.1" cy="755.2" r="7.6"/><circle cx="614.6" cy="747.8" r="7.6"/><circle cx="621.1" cy="740.6" r="7.6"/><circle cx="627.6" cy="733.6" r="7.6"/><circle cx="634.1" cy="727.3" r="7.6"/><circle cx="640.6" cy="721.2" r="7.6"/><circle cx="647.1" cy="715.3" r="7.6"/><circle cx="653.6" cy="710.9" r="7.6"/><circle cx="660.1" cy="708.2" r="7.6"/><circle cx="666.7" cy="706.8" r="7.6"/><circle cx="673.2" cy="706.1" r="7.6"/><circle cx="679.7" cy="706.2" r="7.6"/><circle cx="686.2" cy="707.1" r="7.6"/><circle cx="692.7" cy="708.4" r="7.6"/><circle cx="699.2" cy="710.6" r="7.6"/><circle cx="705.7" cy="713.7" r="7.6"/><circle cx="712.2" cy="717.1" r="7.6"/><circle cx="718.7" cy="720.5" r="7.6"/><circle cx="725.2" cy="724.3" r="7.6"/><circle cx="731.8" cy="728.5" r="7.6"/><circle cx="738.3" cy="732.9" r="7.6"/><circle cx="744.8" cy="737.7" r="7.6"/><circle cx="751.3" cy="742.5" r="7.6"/><circle cx="757.8" cy="747" r="7.6"/><circle cx="764.3" cy="752.5" r="7.6"/><circle cx="770.8" cy="759" r="7.6"/><circle cx="777.3" cy="767.3" r="7.6"/><circle cx="783.8" cy="776.7" r="7.6"/><circle cx="790.3" cy="787" r="7.6"/><circle cx="796.9" cy="798.9" r="7.6"/><circle cx="803.4" cy="811.9" r="7.6"/><circle cx="809.9" cy="824.9" r="7.6"/><circle cx="816.4" cy="839.1" r="7.6"/><circle cx="822.9" cy="852.5" r="7.6"/><circle cx="829.4" cy="866" r="7.6"/><circle cx="835.9" cy="880.2" r="7.6"/><circle cx="842.4" cy="895.2" r="7.6"/><circle cx="848.9" cy="910.3" r="7.6"/><circle cx="855.5" cy="925.9" r="7.6"/><circle cx="862" cy="941.5" r="7.6"/><circle cx="868.5" cy="957.4" r="7.6"/><circle cx="875" cy="973.4" r="7.6"/><circle cx="881.5" cy="988.7" r="7.6"/><circle cx="888" cy="1003.5" r="7.6"/><circle cx="894.5" cy="1017.9" r="7.6"/><circle cx="901" cy="1031.7" r="7.6"/><circle cx="907.5" cy="1044.6" r="7.6"/><circle cx="914" cy="1056.7" r="7.6"/><circle cx="920.5" cy="1067.8" r="7.6"/><circle cx="927.1" cy="1077.8" r="7.6"/><circle cx="933.6" cy="1086.5" r="7.6"/><circle cx="940.1" cy="1094.5" r="7.6"/><circle cx="946.6" cy="1101.7" r="7.6"/><circle cx="953.1" cy="1107.8" r="7.6"/><circle cx="959.6" cy="1113.7" r="7.6"/><circle cx="966.1" cy="1119.2" r="7.6"/><circle cx="972.6" cy="1123.9" r="7.6"/><circle cx="979.1" cy="1129" r="7.6"/><circle cx="985.6" cy="1133.4" r="7.6"/><circle cx="992.2" cy="1136.5" r="7.6"/><circle cx="998.7" cy="1139.1" r="7.6"/><circle cx="1005.2" cy="1141.3" r="7.6"/><circle cx="1011.7" cy="1143.3" r="7.6"/><circle cx="1018.2" cy="1144.9" r="7.6"/><circle cx="1024.7" cy="1146.3" r="7.6"/><circle cx="1031.2" cy="1147.4" r="7.6"/><circle cx="1037.7" cy="1148.2" r="7.6"/><circle cx="1044.2" cy="1148.9" r="7.6"/><circle cx="1050.8" cy="1149.4" r="7.6"/><circle cx="1057.3" cy="1149.9" r="7.6"/><circle cx="1063.8" cy="1150.3" r="7.6"/><circle cx="1070.3" cy="1150.6" r="7.6"/><circle cx="1076.8" cy="1150.8" r="7.6"/><circle cx="1083.3" cy="1151" r="7.6"/><circle cx="1089.8" cy="1151" r="7.6"/></g>
<g fill="#dd4814"><rect x="-4.95" y="-4.95" width="9.9" height="9.9" transform="translate(176.8 1228) rotate(-16.4)"/><rect x="-4.95" y="-4.95" width="9.9" height="9.9" transform="translate(199.7 1221.3) rotate(-13.9)"/><rect x="-4.95" y="-4.95" width="9.9" height="9.9" transform="translate(222.7 1216.7) rotate(-13)"/><rect x="-4.95" y="-4.95" width="9.9" height="9.9" transform="translate(245.6 1210.7) rotate(-15.4)"/><rect x="-4.95" y="-4.95" width="9.9" height="9.9" transform="translate(269.2 1203.9) rotate(-14.7)"/><rect x="-4.95" y="-4.95" width="9.9" height="9.9" transform="translate(292.6 1198.4) rotate(-13.1)"/><rect x="-4.95" y="-4.95" width="9.9" height="9.9" transform="translate(316 1193.1) rotate(-10.2)"/><rect x="-4.95" y="-4.95" width="9.9" height="9.9" transform="translate(339.6 1189.9) rotate(-5.8)"/><rect x="-4.95" y="-4.95" width="9.9" height="9.9" transform="translate(363.8 1188.2) rotate(-2)"/><rect x="-4.95" y="-4.95" width="9.9" height="9.9" transform="translate(387.9 1188.2) rotate(1.4)"/><rect x="-4.95" y="-4.95" width="9.9" height="9.9" transform="translate(412 1189.4) rotate(3.5)"/><rect x="-4.95" y="-4.95" width="9.9" height="9.9" transform="translate(435.4 1191.1) rotate(5.3)"/><rect x="-4.95" y="-4.95" width="9.9" height="9.9" transform="translate(459 1193.8) rotate(6.1)"/><rect x="-4.95" y="-4.95" width="9.9" height="9.9" transform="translate(483.2 1196.2) rotate(6.3)"/><rect x="-4.95" y="-4.95" width="9.9" height="9.9" transform="translate(507.3 1199.1) rotate(7.2)"/><rect x="-4.95" y="-4.95" width="9.9" height="9.9" transform="translate(530.7 1202.2) rotate(6.4)"/><rect x="-4.95" y="-4.95" width="9.9" height="9.9" transform="translate(554.8 1204.4) rotate(4.3)"/><rect x="-4.95" y="-4.95" width="9.9" height="9.9" transform="translate(578.9 1205.8) rotate(4.6)"/><rect x="-4.95" y="-4.95" width="9.9" height="9.9" transform="translate(602.6 1208.3) rotate(3.9)"/><rect x="-4.95" y="-4.95" width="9.9" height="9.9" transform="translate(621.9 1208.7) rotate(2.3)"/><rect x="-4.95" y="-4.95" width="9.9" height="9.9" transform="translate(626.8 1209.2) rotate(1.4)"/><rect x="-4.95" y="-4.95" width="9.9" height="9.9" transform="translate(650.5 1209.5) rotate(2.9)"/><rect x="-4.95" y="-4.95" width="9.9" height="9.9" transform="translate(674.6 1211.6) rotate(8.3)"/><rect x="-4.95" y="-4.95" width="9.9" height="9.9" transform="translate(698.5 1216.5) rotate(13.3)"/><rect x="-4.95" y="-4.95" width="9.9" height="9.9" transform="translate(721.6 1222.7) rotate(12.7)"/><rect x="-4.95" y="-4.95" width="9.9" height="9.9" transform="translate(744.5 1226.8) rotate(13)"/><rect x="-4.95" y="-4.95" width="9.9" height="9.9" transform="translate(767.5 1233.3) rotate(14)"/><rect x="-4.95" y="-4.95" width="9.9" height="9.9" transform="translate(790.9 1238.4) rotate(16.4)"/><rect x="-4.95" y="-4.95" width="9.9" height="9.9" transform="translate(812.6 1246.6) rotate(11.9)"/><rect x="-4.95" y="-4.95" width="9.9" height="9.9" transform="translate(836.7 1248.1) rotate(3.1)"/><rect x="-4.95" y="-4.95" width="9.9" height="9.9" transform="translate(860.8 1249.3) rotate(2)"/><rect x="-4.95" y="-4.95" width="9.9" height="9.9" transform="translate(884.9 1249.7) rotate(-0.9)"/><rect x="-4.95" y="-4.95" width="9.9" height="9.9" transform="translate(908.6 1248.5) rotate(-4.4)"/><rect x="-4.95" y="-4.95" width="9.9" height="9.9" transform="translate(932.4 1246.1) rotate(-10.9)"/><rect x="-4.95" y="-4.95" width="9.9" height="9.9" transform="translate(954.9 1239.6) rotate(-10.7)"/><rect x="-4.95" y="-4.95" width="9.9" height="9.9" transform="translate(979.5 1237.2) rotate(-6.6)"/><rect x="-4.95" y="-4.95" width="9.9" height="9.9" transform="translate(1003.1 1234.1) rotate(-7.3)"/><rect x="-4.95" y="-4.95" width="9.9" height="9.9" transform="translate(1026.8 1231.2) rotate(-5.8)"/><rect x="-4.95" y="-4.95" width="9.9" height="9.9" transform="translate(1050.9 1229.2) rotate(-4.3)"/><rect x="-4.95" y="-4.95" width="9.9" height="9.9" transform="translate(1074.8 1227.6) rotate(-4)"/><rect x="-4.95" y="-4.95" width="9.9" height="9.9" transform="translate(1082 1227.1) rotate(-3.8)"/></g>
<polyline fill="none" stroke="#dd4814" stroke-width="9.8" stroke-linejoin="round" points="162.4,1230.4 172,1225.6 184.1,1219.6 196.1,1213.6 208.2,1208.3 220.2,1202.7 232.3,1197.9 244.4,1191.9 256.4,1185.1 268.5,1180.3 280.5,1176.2 292.6,1170.1 304.7,1165.3 316.7,1162.2 328.8,1159.3 340.9,1156.9 352.9,1154 365,1152.5 377,1150.8 389.1,1150.8 401.2,1150.8 413.2,1149.6 425.3,1147.7 432.5,1149.6 449.4,1148.4 461.5,1145.5 473.5,1143.6 485.6,1141.2 497.6,1140 509.7,1136.4 521.8,1132 533.8,1127.9 540,1125.5 552.1,1120.7 564.1,1115.9 573.8,1109.9 581,1103.8 588.2,1100.2 595.5,1094.2 602.7,1088.1 610,1080.9 614.8,1072.5 618.4,1066.4 624.4,1063.4 630.5,1058 634.1,1048.3 637.7,1041.1 641.3,1033.9 644.9,1025.4 649.8,1021.8 655.8,1017 661.8,1011 667.8,1003.7 673.9,996.5 678.7,989.3 683.5,980.8 688.3,974.8 693.2,968.7 696.2,959.1 699.2,950.7 705.2,943.4 711.3,936.2 717.3,927.7 723.3,918.1 727.5,908.4 731.7,897.1 736.5,885 741.4,874.2 746.2,864.5 749.8,853.7 752.2,842.8 754.6,832 757.6,823.5 761.9,817.5 765.5,805.4 768.5,795.8 772.7,791 777.5,786.1 782.4,778.9 787.2,772.9 792,764.4 795.6,756 799.3,747.5 804.1,745.1 807.7,742.7 810.1,733.1 812.5,725.8 817.3,724 822.2,722.8 827,717.4 830,710.2 833.6,705.9 837.8,708.9 841.5,713.8 846.3,713.2 851.1,711.4 855.9,711.1 860.8,715 865.6,719.8 869.2,725.8 872.8,731.9 876.4,740.3 880.1,748.7 883.7,757.2 887.3,765.6 890.3,775.3 892.7,786.1 895.1,797 898.1,807.8 902.4,817.5 906.6,828.3 910.2,839.2 913.8,848.9 917.4,859.7 921.1,870.6 924.7,881.4 928.3,892.3 931.9,901.9 936.2,912.1 939.8,924.1 945.2,933.8 948.2,945.8 951.3,957.9 954.3,967.5 959.1,977.2 963.9,986.8 966.9,996.5 970,1007.3 973,1018.2 977.2,1027.8 982,1038.7 986.8,1049.6 991.7,1060.4 995.9,1071.3 1000.1,1079.7 1004.9,1088.1 1011,1096.6 1015.8,1105 1021.8,1112.3 1027.8,1119.5 1033.9,1125.5 1040.5,1130 1053.8,1138.8 1063.4,1146 1073.1,1153.3 1082,1159.3 1094.8,1167.7"/>
</g>
<circle cx="241" cy="701.5" r="8" fill="#696969" fill-opacity="0.6"/>
<rect x="200" y="750.1" width="82" height="9.8" fill="#dd4814"/>
<rect x="204" y="803" width="9.9" height="9.9" fill="#dd4814"/>
<rect x="228.1" y="803" width="9.9" height="9.9" fill="#dd4814"/>
<rect x="252.1" y="803" width="9.9" height="9.9" fill="#dd4814"/>
<rect x="276" y="803" width="2.2" height="9.9" fill="#dd4814"/>
<text x="305.5" y="714.3">exp.</text>
<text x="305.5" y="767.3">OPC3-pol</text>
<text x="305.5" y="819.6">μ<tspan font-size="25.5" dy="5.6">ind</tspan></text>
<rect x="172" y="654" width="911" height="629" fill="none" stroke="#000" stroke-width="4"/>
<rect x="159" y="1229" width="12" height="4"/>
<text x="147.4" y="1245.6" text-anchor="end">0.0</text>
<rect x="159" y="1124" width="12" height="4"/>
<text x="147.4" y="1140.6" text-anchor="end">0.2</text>
<rect x="159" y="1019" width="12" height="4"/>
<text x="147.4" y="1035.6" text-anchor="end">0.4</text>
<rect x="159" y="914" width="12" height="4"/>
<text x="147.4" y="930.6" text-anchor="end">0.6</text>
<rect x="159" y="809" width="12" height="4"/>
<text x="147.4" y="825.6" text-anchor="end">0.8</text>
<rect x="159" y="704" width="12" height="4"/>
<text x="147.4" y="720.6" text-anchor="end">1.0</text>
<g transform="translate(67.3 1150.5) rotate(-90)">
<text x="-1.6" y="0" textLength="98.1" lengthAdjust="spacing">α(ν)n</text>
<text x="92.2" y="15.8" style="font-size:56.6px;stroke-width:0.1px">ʹ</text>
<text x="105.4" y="0" textLength="263.4" lengthAdjust="spacing">(ν) [arb. units]</text>
<text x="43.6" y="0">¯</text>
<text x="123.2" y="0">¯</text>
</g>
<g clip-path="url(#c4)">
<g fill="#696969" fill-opacity="0.6"><circle cx="1106.2" cy="1160" r="7.6"/><circle cx="1102.8" cy="1162.7" r="7.6"/><circle cx="1099.4" cy="1165.4" r="7.6"/><circle cx="1096" cy="1168.1" r="7.6"/><circle cx="1092.6" cy="1170.7" r="7.6"/><circle cx="1089.2" cy="1173.4" r="7.6"/><circle cx="1085.8" cy="1176" r="7.6"/><circle cx="1082.4" cy="1178.9" r="7.6"/><circle cx="1079" cy="1181.7" r="7.6"/><circle cx="1075.6" cy="1184.6" r="7.6"/><circle cx="1072.2" cy="1187.5" r="7.6"/><circle cx="1109.6" cy="1157.3" r="7.6"/><circle cx="1109.6" cy="1157.3" r="7.6"/><circle cx="1109.6" cy="1157.3" r="7.6"/><circle cx="1109.6" cy="1157.3" r="7.6"/><circle cx="1115.5" cy="1149.6" r="7.6"/><circle cx="1122" cy="1144.9" r="7.6"/><circle cx="1128.5" cy="1136.5" r="7.6"/><circle cx="1135" cy="1126.1" r="7.6"/><circle cx="1141.5" cy="1115.3" r="7.6"/><circle cx="1148" cy="1103.2" r="7.6"/><circle cx="1154.5" cy="1090.9" r="7.6"/><circle cx="1161" cy="1078" r="7.6"/><circle cx="1167.5" cy="1064.9" r="7.6"/><circle cx="1174" cy="1052.4" r="7.6"/><circle cx="1180.5" cy="1041.3" r="7.6"/><circle cx="1187.1" cy="1031.1" r="7.6"/><circle cx="1193.6" cy="1023.1" r="7.6"/><circle cx="1200.1" cy="1017.9" r="7.6"/><circle cx="1206.6" cy="1013.4" r="7.6"/><circle cx="1213.1" cy="1010.8" r="7.6"/><circle cx="1219.6" cy="1009.7" r="7.6"/><circle cx="1226.1" cy="1010.4" r="7.6"/><circle cx="1232.6" cy="1012.2" r="7.6"/><circle cx="1239.1" cy="1014.5" r="7.6"/><circle cx="1245.7" cy="1018.7" r="7.6"/><circle cx="1252.2" cy="1023.1" r="7.6"/><circle cx="1258.7" cy="1027.2" r="7.6"/><circle cx="1265.2" cy="1030.7" r="7.6"/><circle cx="1271.7" cy="1033.5" r="7.6"/><circle cx="1278.2" cy="1035.3" r="7.6"/><circle cx="1284.7" cy="1036.2" r="7.6"/><circle cx="1291.2" cy="1035.1" r="7.6"/><circle cx="1297.7" cy="1033" r="7.6"/><circle cx="1304.2" cy="1029.8" r="7.6"/><circle cx="1310.8" cy="1025.5" r="7.6"/><circle cx="1317.3" cy="1020.1" r="7.6"/><circle cx="1323.8" cy="1013.9" r="7.6"/><circle cx="1330.3" cy="1007.4" r="7.6"/><circle cx="1336.8" cy="1000.5" r="7.6"/><circle cx="1343.3" cy="993.3" r="7.6"/><circle cx="1349.8" cy="986.2" r="7.6"/><circle cx="1356.3" cy="978.7" r="7.6"/><circle cx="1362.8" cy="971.2" r="7.6"/><circle cx="1369.3" cy="962.2" r="7.6"/><circle cx="1375.8" cy="953" r="7.6"/><circle cx="1382.4" cy="943.8" r="7.6"/><circle cx="1388.9" cy="934.6" r="7.6"/><circle cx="1395.4" cy="926.1" r="7.6"/><circle cx="1401.9" cy="917" r="7.6"/><circle cx="1408.4" cy="907.7" r="7.6"/><circle cx="1414.9" cy="898.7" r="7.6"/><circle cx="1421.4" cy="890" r="7.6"/><circle cx="1427.9" cy="880.9" r="7.6"/><circle cx="1434.4" cy="871.9" r="7.6"/><circle cx="1441" cy="863.1" r="7.6"/><circle cx="1447.5" cy="853.7" r="7.6"/><circle cx="1454" cy="844.3" r="7.6"/><circle cx="1460.5" cy="835.2" r="7.6"/><circle cx="1467" cy="826.2" r="7.6"/><circle cx="1473.5" cy="817.5" r="7.6"/><circle cx="1480" cy="808.8" r="7.6"/><circle cx="1486.5" cy="799.1" r="7.6"/><circle cx="1493" cy="789.9" r="7.6"/><circle cx="1499.5" cy="781" r="7.6"/><circle cx="1506" cy="772.3" r="7.6"/><circle cx="1512.6" cy="763.7" r="7.6"/><circle cx="1519.1" cy="755.2" r="7.6"/><circle cx="1525.6" cy="747.8" r="7.6"/><circle cx="1532.1" cy="740.6" r="7.6"/><circle cx="1538.6" cy="733.6" r="7.6"/><circle cx="1545.1" cy="727.3" r="7.6"/><circle cx="1551.6" cy="721.2" r="7.6"/><circle cx="1558.1" cy="715.3" r="7.6"/><circle cx="1564.6" cy="710.9" r="7.6"/><circle cx="1571.2" cy="708.2" r="7.6"/><circle cx="1577.7" cy="706.8" r="7.6"/><circle cx="1584.2" cy="706.1" r="7.6"/><circle cx="1590.7" cy="706.2" r="7.6"/><circle cx="1597.2" cy="707.1" r="7.6"/><circle cx="1603.7" cy="708.4" r="7.6"/><circle cx="1610.2" cy="710.6" r="7.6"/><circle cx="1616.7" cy="713.7" r="7.6"/><circle cx="1623.2" cy="717.1" r="7.6"/><circle cx="1629.7" cy="720.5" r="7.6"/><circle cx="1636.2" cy="724.3" r="7.6"/><circle cx="1642.8" cy="728.5" r="7.6"/><circle cx="1649.3" cy="732.9" r="7.6"/><circle cx="1655.8" cy="737.7" r="7.6"/><circle cx="1662.3" cy="742.5" r="7.6"/><circle cx="1668.8" cy="747" r="7.6"/><circle cx="1675.3" cy="752.5" r="7.6"/><circle cx="1681.8" cy="759" r="7.6"/><circle cx="1688.3" cy="767.3" r="7.6"/><circle cx="1694.8" cy="776.7" r="7.6"/><circle cx="1701.3" cy="787" r="7.6"/><circle cx="1707.9" cy="798.9" r="7.6"/><circle cx="1714.4" cy="811.9" r="7.6"/><circle cx="1720.9" cy="824.9" r="7.6"/><circle cx="1727.4" cy="839.1" r="7.6"/><circle cx="1733.9" cy="852.5" r="7.6"/><circle cx="1740.4" cy="866" r="7.6"/><circle cx="1746.9" cy="880.2" r="7.6"/><circle cx="1753.4" cy="895.2" r="7.6"/><circle cx="1759.9" cy="910.3" r="7.6"/><circle cx="1766.5" cy="925.9" r="7.6"/><circle cx="1773" cy="941.5" r="7.6"/><circle cx="1779.5" cy="957.4" r="7.6"/><circle cx="1786" cy="973.4" r="7.6"/><circle cx="1792.5" cy="988.7" r="7.6"/><circle cx="1799" cy="1003.5" r="7.6"/><circle cx="1805.5" cy="1017.9" r="7.6"/><circle cx="1812" cy="1031.7" r="7.6"/><circle cx="1818.5" cy="1044.6" r="7.6"/><circle cx="1825" cy="1056.7" r="7.6"/><circle cx="1831.5" cy="1067.8" r="7.6"/><circle cx="1838.1" cy="1077.8" r="7.6"/><circle cx="1844.6" cy="1086.5" r="7.6"/><circle cx="1851.1" cy="1094.5" r="7.6"/><circle cx="1857.6" cy="1101.7" r="7.6"/><circle cx="1864.1" cy="1107.8" r="7.6"/><circle cx="1870.6" cy="1113.7" r="7.6"/><circle cx="1877.1" cy="1119.2" r="7.6"/><circle cx="1883.6" cy="1123.9" r="7.6"/><circle cx="1890.1" cy="1129" r="7.6"/><circle cx="1896.6" cy="1133.4" r="7.6"/><circle cx="1903.2" cy="1136.5" r="7.6"/><circle cx="1909.7" cy="1139.1" r="7.6"/><circle cx="1916.2" cy="1141.3" r="7.6"/><circle cx="1922.7" cy="1143.3" r="7.6"/><circle cx="1929.2" cy="1144.9" r="7.6"/><circle cx="1935.7" cy="1146.3" r="7.6"/><circle cx="1942.2" cy="1147.4" r="7.6"/><circle cx="1948.7" cy="1148.2" r="7.6"/><circle cx="1955.2" cy="1148.9" r="7.6"/><circle cx="1961.8" cy="1149.4" r="7.6"/><circle cx="1968.3" cy="1149.9" r="7.6"/><circle cx="1974.8" cy="1150.3" r="7.6"/><circle cx="1981.3" cy="1150.6" r="7.6"/><circle cx="1987.8" cy="1150.8" r="7.6"/><circle cx="1994.3" cy="1151" r="7.6"/><circle cx="2000.8" cy="1151" r="7.6"/></g>
<g fill="#91c052"><rect x="-4.95" y="-4.95" width="9.9" height="9.9" transform="translate(1104.7 1225.8) rotate(-40.9)"/><rect x="-4.95" y="-4.95" width="9.9" height="9.9" transform="translate(1122.8 1210.2) rotate(-43)"/><rect x="-4.95" y="-4.95" width="9.9" height="9.9" transform="translate(1140.9 1192.1) rotate(-42.1)"/><rect x="-4.95" y="-4.95" width="9.9" height="9.9" transform="translate(1160.2 1176.4) rotate(-40.9)"/><rect x="-4.95" y="-4.95" width="9.9" height="9.9" transform="translate(1177.1 1160.7) rotate(-46.1)"/><rect x="-4.95" y="-4.95" width="9.9" height="9.9" transform="translate(1191.5 1143.8) rotate(-55.5)"/><rect x="-4.95" y="-4.95" width="9.9" height="9.9" transform="translate(1203.6 1122.1) rotate(-60.8)"/><rect x="-4.95" y="-4.95" width="9.9" height="9.9" transform="translate(1215.2 1101.6) rotate(-59.5)"/><rect x="-4.95" y="-4.95" width="9.9" height="9.9" transform="translate(1227.7 1081.1) rotate(-61)"/><rect x="-4.95" y="-4.95" width="9.9" height="9.9" transform="translate(1238.6 1059.4) rotate(-54.3)"/><rect x="-4.95" y="-4.95" width="9.9" height="9.9" transform="translate(1255.5 1042.5) rotate(-50.4)"/><rect x="-4.95" y="-4.95" width="9.9" height="9.9" transform="translate(1267.5 1024.4) rotate(-40)"/><rect x="-4.95" y="-4.95" width="9.9" height="9.9" transform="translate(1285.6 1017.2) rotate(-27.3)"/><rect x="-4.95" y="-4.95" width="9.9" height="9.9" transform="translate(1304.9 1005.1) rotate(-22.4)"/><rect x="-4.95" y="-4.95" width="9.9" height="9.9" transform="translate(1326.6 1000.3) rotate(6.5)"/><rect x="-4.95" y="-4.95" width="9.9" height="9.9" transform="translate(1347.1 1009.9) rotate(40.8)"/><rect x="-4.95" y="-4.95" width="9.9" height="9.9" transform="translate(1361.6 1030.4) rotate(45.4)"/><rect x="-4.95" y="-4.95" width="9.9" height="9.9" transform="translate(1379.7 1043) rotate(28.7)"/><rect x="-4.95" y="-4.95" width="9.9" height="9.9" transform="translate(1399 1050.9) rotate(31.3)"/><rect x="-4.95" y="-4.95" width="9.9" height="9.9" transform="translate(1414.7 1064.2) rotate(17.4)"/><rect x="-4.95" y="-4.95" width="9.9" height="9.9" transform="translate(1437.6 1063) rotate(1.7)"/><rect x="-4.95" y="-4.95" width="9.9" height="9.9" transform="translate(1456.4 1065.4) rotate(12)"/><rect x="-4.95" y="-4.95" width="9.9" height="9.9" transform="translate(1477.4 1071.5) rotate(9.6)"/><rect x="-4.95" y="-4.95" width="9.9" height="9.9" transform="translate(1499.1 1072.7) rotate(3.6)"/><rect x="-4.95" y="-4.95" width="9.9" height="9.9" transform="translate(1516 1073.9) rotate(-5.6)"/><rect x="-4.95" y="-4.95" width="9.9" height="9.9" transform="translate(1537.8 1068.8) rotate(-19.6)"/><rect x="-4.95" y="-4.95" width="9.9" height="9.9" transform="translate(1557.1 1059.2) rotate(-26.6)"/><rect x="-4.95" y="-4.95" width="9.9" height="9.9" transform="translate(1574 1050.7) rotate(-14.5)"/><rect x="-4.95" y="-4.95" width="9.9" height="9.9" transform="translate(1594.5 1049.5) rotate(-6)"/><rect x="-4.95" y="-4.95" width="9.9" height="9.9" transform="translate(1615 1046.4) rotate(-13.9)"/><rect x="-4.95" y="-4.95" width="9.9" height="9.9" transform="translate(1635.5 1039.4) rotate(-12.2)"/><rect x="-4.95" y="-4.95" width="9.9" height="9.9" transform="translate(1658.4 1037) rotate(11.6)"/><rect x="-4.95" y="-4.95" width="9.9" height="9.9" transform="translate(1678.9 1048.3) rotate(15.9)"/><rect x="-4.95" y="-4.95" width="9.9" height="9.9" transform="translate(1698.2 1048.3) rotate(17.2)"/><rect x="-4.95" y="-4.95" width="9.9" height="9.9" transform="translate(1713.9 1059.2) rotate(16.4)"/><rect x="-4.95" y="-4.95" width="9.9" height="9.9" transform="translate(1736.8 1059.7) rotate(2.2)"/><rect x="-4.95" y="-4.95" width="9.9" height="9.9" transform="translate(1757.3 1060.9) rotate(2.8)"/><rect x="-4.95" y="-4.95" width="9.9" height="9.9" transform="translate(1776.6 1061.6) rotate(4.4)"/><rect x="-4.95" y="-4.95" width="9.9" height="9.9" transform="translate(1798.3 1064) rotate(-3.2)"/><rect x="-4.95" y="-4.95" width="9.9" height="9.9" transform="translate(1820 1059.2) rotate(10.3)"/><rect x="-4.95" y="-4.95" width="9.9" height="9.9" transform="translate(1838.1 1071.2) rotate(21.2)"/><rect x="-4.95" y="-4.95" width="9.9" height="9.9" transform="translate(1858.6 1074.1) rotate(17.5)"/><rect x="-4.95" y="-4.95" width="9.9" height="9.9" transform="translate(1877.9 1083.8) rotate(28.2)"/><rect x="-4.95" y="-4.95" width="9.9" height="9.9" transform="translate(1899.2 1095.8) rotate(33.2)"/><rect x="-4.95" y="-4.95" width="9.9" height="9.9" transform="translate(1917 1109.4) rotate(28.3)"/><rect x="-4.95" y="-4.95" width="9.9" height="9.9" transform="translate(1939.4 1117.6) rotate(22)"/><rect x="-4.95" y="-4.95" width="9.9" height="9.9" transform="translate(1960 1126.7) rotate(23.5)"/><rect x="-4.95" y="-4.95" width="9.9" height="9.9" transform="translate(1981.7 1135.9) rotate(23.7)"/><rect x="-4.95" y="-4.95" width="9.9" height="9.9" transform="translate(1993 1141.2) rotate(25.1)"/></g>
<polyline fill="none" stroke="#91c052" stroke-width="9.8" stroke-linejoin="round" points="1071,1251.6 1078.2,1245 1084.8,1239 1095.1,1229.4 1107.1,1218.5 1119.2,1207.6 1131.2,1195.6 1138.5,1187.1 1145.7,1179.9 1155.4,1171.5 1165,1163 1173.5,1155.8 1179.5,1148.5 1184.3,1141.3 1189.1,1135.3 1194,1124.4 1198.8,1113.6 1203.6,1107.5 1208.4,1100.3 1212.1,1088.2 1215.7,1077.4 1220.5,1070.2 1225.3,1061.7 1230.1,1052.1 1233.6,1039.2 1239.6,1033.2 1246.9,1026.5 1254.1,1019.9 1260.2,1013.9 1263.8,1004.2 1268.6,998.2 1271.6,991 1274.6,986.1 1280.7,985.9 1286.7,984.9 1292.7,982.5 1297.5,975.3 1303.6,969.3 1309.6,962 1315.6,956.6 1321.7,953 1327.7,948.7 1333.7,947.5 1339.8,947.8 1347,947.3 1351.8,951.2 1356.6,957.2 1361.5,964.4 1366.3,968.6 1371.1,969.3 1375.9,965.6 1380.8,960.8 1385.6,958.4 1390.4,956 1396.4,954.8 1402.5,951.2 1407.3,947.5 1412.1,945.7 1418.1,946.3 1424.2,945.7 1429,940.3 1432.6,936.7 1437.4,936.7 1446,933 1452.1,931.8 1456.9,929.4 1462.9,930.6 1468.9,925.7 1475,919.7 1481,916.7 1485.8,912.5 1490.7,907.6 1496.7,906.4 1501.5,900.4 1503.9,890.8 1507.5,887.1 1511.2,888.3 1514.8,894.4 1519.6,896.8 1525.6,893.2 1531.7,885.9 1536.5,881.1 1542.5,881.1 1547.3,876.3 1552.2,871.5 1558.2,867.8 1560.6,855.8 1562.4,846.1 1565.4,841.3 1571.5,838.3 1577.5,832.9 1583.5,826.8 1588.3,819.6 1592,813.6 1598,810 1604,804.5 1610.1,799.1 1616.1,793.1 1619.7,784.6 1622.1,775 1625.7,771.4 1628.4,771.1 1633.3,769.3 1636.9,762 1640.5,752.4 1644.1,743.9 1650.2,739.1 1656.2,731.9 1659.8,723.4 1664.6,719.8 1668.2,712.6 1673.1,713.8 1677.9,714.4 1682.7,712 1687.5,714.4 1691.2,716.2 1694.8,710.2 1697.8,705.9 1700.8,710.2 1703.2,719.8 1705.6,727 1710.5,727.6 1715.3,728.8 1720.1,726.4 1726.1,725.8 1732.2,727.6 1738.2,726.4 1744.2,722.8 1747.8,725.8 1750.9,734.3 1753.9,742.7 1758.7,747.5 1761.7,757.2 1764.7,765.6 1770.8,766.2 1775.6,771.7 1780.4,778.9 1783.4,788.5 1787,798.2 1791.3,804.2 1796.1,809.1 1798.5,817.5 1803.3,823.5 1806.9,830.8 1810.6,840.4 1815.4,845.8 1820.2,846.4 1825,852.5 1829.9,859.7 1833.5,869.4 1837,881.7 1843.1,886.5 1847.9,888.3 1852.7,897.4 1857.5,904.6 1861.2,914.3 1864.2,923.9 1868.4,933.6 1872,943.2 1876.2,951.7 1879.9,960.1 1885.3,968.5 1890.1,973.4 1896.1,975.8 1902.2,983 1908.2,990.3 1911.8,998.7 1917.8,1005.9 1923.9,1013.2 1932.3,1020.4 1940.8,1027.6 1949.2,1032.5 1956.4,1039.7 1961.3,1048.1 1968.5,1055.4 1975.7,1060.2 1983,1066.2 1989,1071.1 1993.8,1073.5 2005.9,1080.7"/>
</g>
<circle cx="1152" cy="701.5" r="8" fill="#696969" fill-opacity="0.6"/>
<rect x="1111" y="750.1" width="82" height="9.8" fill="#91c052"/>
<rect x="1115" y="803" width="9.9" height="9.9" fill="#91c052"/>
<rect x="1139" y="803" width="9.9" height="9.9" fill="#91c052"/>
<rect x="1163.1" y="803" width="9.9" height="9.9" fill="#91c052"/>
<rect x="1187" y="803" width="2.2" height="9.9" fill="#91c052"/>
<text x="1216.5" y="714.3">exp.</text>
<text x="1216.5" y="767.3">SPC/E</text>
<text x="1216.5" y="819.6">μ<tspan font-size="25.5" dy="5.6">ind</tspan></text>
<rect x="1083" y="654" width="911" height="629" fill="none" stroke="#000" stroke-width="4"/>
<rect x="1233" y="1285" width="4" height="12" />
<text x="1235" y="1336.6" text-anchor="middle">200</text>
<rect x="1402" y="1285" width="4" height="12" />
<text x="1404" y="1336.6" text-anchor="middle">400</text>
<rect x="1570" y="1285" width="4" height="12" />
<text x="1572" y="1336.6" text-anchor="middle">600</text>
<rect x="1739" y="1285" width="4" height="12" />
<text x="1741" y="1336.6" text-anchor="middle">800</text>
<rect x="1908" y="1285" width="4" height="12" />
<text x="1910" y="1336.6" text-anchor="middle">1000</text>
<text y="1391.3"><tspan x="1459.3">ν</tspan><tspan x="1465.3">¯</tspan><tspan x="1493.4">[cm</tspan><tspan font-size="25.5" dy="-14.2">−1</tspan><tspan dy="14.2" dx="1">]</tspan></text>
<g clip-path="url(#c5)">
<g fill="#696969" fill-opacity="0.6"><circle cx="195.2" cy="1789" r="7.6"/><circle cx="191.8" cy="1791.7" r="7.6"/><circle cx="188.4" cy="1794.4" r="7.6"/><circle cx="185" cy="1797.1" r="7.6"/><circle cx="181.6" cy="1799.7" r="7.6"/><circle cx="178.2" cy="1802.4" r="7.6"/><circle cx="174.8" cy="1805" r="7.6"/><circle cx="171.4" cy="1807.9" r="7.6"/><circle cx="168" cy="1810.7" r="7.6"/><circle cx="164.6" cy="1813.6" r="7.6"/><circle cx="161.2" cy="1816.5" r="7.6"/><circle cx="198.6" cy="1786.3" r="7.6"/><circle cx="198.6" cy="1786.3" r="7.6"/><circle cx="198.6" cy="1786.3" r="7.6"/><circle cx="198.6" cy="1786.3" r="7.6"/><circle cx="204.4" cy="1778.6" r="7.6"/><circle cx="211" cy="1773.9" r="7.6"/><circle cx="217.5" cy="1765.5" r="7.6"/><circle cx="224" cy="1755.1" r="7.6"/><circle cx="230.5" cy="1744.3" r="7.6"/><circle cx="237" cy="1732.2" r="7.6"/><circle cx="243.5" cy="1719.9" r="7.6"/><circle cx="250" cy="1707" r="7.6"/><circle cx="256.5" cy="1693.9" r="7.6"/><circle cx="263" cy="1681.4" r="7.6"/><circle cx="269.5" cy="1670.3" r="7.6"/><circle cx="276.1" cy="1660.1" r="7.6"/><circle cx="282.6" cy="1652.1" r="7.6"/><circle cx="289.1" cy="1646.9" r="7.6"/><circle cx="295.6" cy="1642.4" r="7.6"/><circle cx="302.1" cy="1639.8" r="7.6"/><circle cx="308.6" cy="1638.7" r="7.6"/><circle cx="315.1" cy="1639.4" r="7.6"/><circle cx="321.6" cy="1641.2" r="7.6"/><circle cx="328.1" cy="1643.5" r="7.6"/><circle cx="334.6" cy="1647.7" r="7.6"/><circle cx="341.2" cy="1652.1" r="7.6"/><circle cx="347.7" cy="1656.2" r="7.6"/><circle cx="354.2" cy="1659.7" r="7.6"/><circle cx="360.7" cy="1662.5" r="7.6"/><circle cx="367.2" cy="1664.3" r="7.6"/><circle cx="373.7" cy="1665.2" r="7.6"/><circle cx="380.2" cy="1664.1" r="7.6"/><circle cx="386.7" cy="1662" r="7.6"/><circle cx="393.2" cy="1658.8" r="7.6"/><circle cx="399.8" cy="1654.5" r="7.6"/><circle cx="406.3" cy="1649.1" r="7.6"/><circle cx="412.8" cy="1642.9" r="7.6"/><circle cx="419.3" cy="1636.4" r="7.6"/><circle cx="425.8" cy="1629.5" r="7.6"/><circle cx="432.3" cy="1622.3" r="7.6"/><circle cx="438.8" cy="1615.2" r="7.6"/><circle cx="445.3" cy="1607.7" r="7.6"/><circle cx="451.8" cy="1600.2" r="7.6"/><circle cx="458.3" cy="1591.2" r="7.6"/><circle cx="464.8" cy="1582" r="7.6"/><circle cx="471.4" cy="1572.8" r="7.6"/><circle cx="477.9" cy="1563.6" r="7.6"/><circle cx="484.4" cy="1555.1" r="7.6"/><circle cx="490.9" cy="1546" r="7.6"/><circle cx="497.4" cy="1536.7" r="7.6"/><circle cx="503.9" cy="1527.7" r="7.6"/><circle cx="510.4" cy="1519" r="7.6"/><circle cx="516.9" cy="1509.9" r="7.6"/><circle cx="523.4" cy="1500.9" r="7.6"/><circle cx="530" cy="1492.1" r="7.6"/><circle cx="536.5" cy="1482.7" r="7.6"/><circle cx="543" cy="1473.3" r="7.6"/><circle cx="549.5" cy="1464.2" r="7.6"/><circle cx="556" cy="1455.2" r="7.6"/><circle cx="562.5" cy="1446.5" r="7.6"/><circle cx="569" cy="1437.8" r="7.6"/><circle cx="575.5" cy="1428.1" r="7.6"/><circle cx="582" cy="1418.9" r="7.6"/><circle cx="588.5" cy="1410" r="7.6"/><circle cx="595" cy="1401.3" r="7.6"/><circle cx="601.6" cy="1392.7" r="7.6"/><circle cx="608.1" cy="1384.2" r="7.6"/><circle cx="614.6" cy="1376.8" r="7.6"/><circle cx="621.1" cy="1369.6" r="7.6"/><circle cx="627.6" cy="1362.6" r="7.6"/><circle cx="634.1" cy="1356.3" r="7.6"/><circle cx="640.6" cy="1350.2" r="7.6"/><circle cx="647.1" cy="1344.3" r="7.6"/><circle cx="653.6" cy="1339.9" r="7.6"/><circle cx="660.1" cy="1337.2" r="7.6"/><circle cx="666.7" cy="1335.8" r="7.6"/><circle cx="673.2" cy="1335.1" r="7.6"/><circle cx="679.7" cy="1335.2" r="7.6"/><circle cx="686.2" cy="1336.1" r="7.6"/><circle cx="692.7" cy="1337.4" r="7.6"/><circle cx="699.2" cy="1339.6" r="7.6"/><circle cx="705.7" cy="1342.7" r="7.6"/><circle cx="712.2" cy="1346.1" r="7.6"/><circle cx="718.7" cy="1349.5" r="7.6"/><circle cx="725.2" cy="1353.3" r="7.6"/><circle cx="731.8" cy="1357.5" r="7.6"/><circle cx="738.3" cy="1361.9" r="7.6"/><circle cx="744.8" cy="1366.7" r="7.6"/><circle cx="751.3" cy="1371.5" r="7.6"/><circle cx="757.8" cy="1376" r="7.6"/><circle cx="764.3" cy="1381.5" r="7.6"/><circle cx="770.8" cy="1388" r="7.6"/><circle cx="777.3" cy="1396.3" r="7.6"/><circle cx="783.8" cy="1405.7" r="7.6"/><circle cx="790.3" cy="1416" r="7.6"/><circle cx="796.9" cy="1427.9" r="7.6"/><circle cx="803.4" cy="1440.9" r="7.6"/><circle cx="809.9" cy="1453.9" r="7.6"/><circle cx="816.4" cy="1468.1" r="7.6"/><circle cx="822.9" cy="1481.5" r="7.6"/><circle cx="829.4" cy="1495" r="7.6"/><circle cx="835.9" cy="1509.2" r="7.6"/><circle cx="842.4" cy="1524.2" r="7.6"/><circle cx="848.9" cy="1539.3" r="7.6"/><circle cx="855.5" cy="1554.9" r="7.6"/><circle cx="862" cy="1570.5" r="7.6"/><circle cx="868.5" cy="1586.4" r="7.6"/><circle cx="875" cy="1602.4" r="7.6"/><circle cx="881.5" cy="1617.7" r="7.6"/><circle cx="888" cy="1632.5" r="7.6"/><circle cx="894.5" cy="1646.9" r="7.6"/><circle cx="901" cy="1660.7" r="7.6"/><circle cx="907.5" cy="1673.6" r="7.6"/><circle cx="914" cy="1685.7" r="7.6"/><circle cx="920.5" cy="1696.8" r="7.6"/><circle cx="927.1" cy="1706.8" r="7.6"/><circle cx="933.6" cy="1715.5" r="7.6"/><circle cx="940.1" cy="1723.5" r="7.6"/><circle cx="946.6" cy="1730.7" r="7.6"/><circle cx="953.1" cy="1736.8" r="7.6"/><circle cx="959.6" cy="1742.7" r="7.6"/><circle cx="966.1" cy="1748.2" r="7.6"/><circle cx="972.6" cy="1752.9" r="7.6"/><circle cx="979.1" cy="1758" r="7.6"/><circle cx="985.6" cy="1762.4" r="7.6"/><circle cx="992.2" cy="1765.5" r="7.6"/><circle cx="998.7" cy="1768.1" r="7.6"/><circle cx="1005.2" cy="1770.3" r="7.6"/><circle cx="1011.7" cy="1772.3" r="7.6"/><circle cx="1018.2" cy="1773.9" r="7.6"/><circle cx="1024.7" cy="1775.3" r="7.6"/><circle cx="1031.2" cy="1776.4" r="7.6"/><circle cx="1037.7" cy="1777.2" r="7.6"/><circle cx="1044.2" cy="1777.9" r="7.6"/><circle cx="1050.8" cy="1778.4" r="7.6"/><circle cx="1057.3" cy="1778.9" r="7.6"/><circle cx="1063.8" cy="1779.3" r="7.6"/><circle cx="1070.3" cy="1779.6" r="7.6"/><circle cx="1076.8" cy="1779.8" r="7.6"/><circle cx="1083.3" cy="1780" r="7.6"/><circle cx="1089.8" cy="1780" r="7.6"/></g>
<g fill="#f5a600"><rect x="-4.95" y="-4.95" width="9.9" height="9.9" transform="translate(175.6 1831.7) rotate(-35.5)"/><rect x="-4.95" y="-4.95" width="9.9" height="9.9" transform="translate(194.9 1818) rotate(-34.7)"/><rect x="-4.95" y="-4.95" width="9.9" height="9.9" transform="translate(214.9 1804.4) rotate(-30.7)"/><rect x="-4.95" y="-4.95" width="9.9" height="9.9" transform="translate(235.9 1793.6) rotate(-24.5)"/><rect x="-4.95" y="-4.95" width="9.9" height="9.9" transform="translate(258.4 1784.7) rotate(-19.9)"/><rect x="-4.95" y="-4.95" width="9.9" height="9.9" transform="translate(280.5 1777.4) rotate(-13.3)"/><rect x="-4.95" y="-4.95" width="9.9" height="9.9" transform="translate(304.2 1773.8) rotate(0)"/><rect x="-4.95" y="-4.95" width="9.9" height="9.9" transform="translate(327.1 1777.4) rotate(5.9)"/><rect x="-4.95" y="-4.95" width="9.9" height="9.9" transform="translate(351.2 1778.6) rotate(6.8)"/><rect x="-4.95" y="-4.95" width="9.9" height="9.9" transform="translate(373.4 1783) rotate(6.8)"/><rect x="-4.95" y="-4.95" width="9.9" height="9.9" transform="translate(397.5 1784.2) rotate(10.1)"/><rect x="-4.95" y="-4.95" width="9.9" height="9.9" transform="translate(419.2 1791.2) rotate(10.4)"/><rect x="-4.95" y="-4.95" width="9.9" height="9.9" transform="translate(443.4 1792.6) rotate(6.1)"/><rect x="-4.95" y="-4.95" width="9.9" height="9.9" transform="translate(466.3 1796.2) rotate(7.1)"/><rect x="-4.95" y="-4.95" width="9.9" height="9.9" transform="translate(489.9 1798.4) rotate(9.4)"/><rect x="-4.95" y="-4.95" width="9.9" height="9.9" transform="translate(512.8 1804) rotate(7.3)"/><rect x="-4.95" y="-4.95" width="9.9" height="9.9" transform="translate(536.7 1804.4) rotate(2.9)"/><rect x="-4.95" y="-4.95" width="9.9" height="9.9" transform="translate(559.9 1806.4) rotate(14.5)"/><rect x="-4.95" y="-4.95" width="9.9" height="9.9" transform="translate(581.3 1816) rotate(16.4)"/><rect x="-4.95" y="-4.95" width="9.9" height="9.9" transform="translate(605 1819.6) rotate(11.7)"/><rect x="-4.95" y="-4.95" width="9.9" height="9.9" transform="translate(628 1825.7) rotate(17.4)"/><rect x="-4.95" y="-4.95" width="9.9" height="9.9" transform="translate(649.7 1833.6) rotate(20.7)"/><rect x="-4.95" y="-4.95" width="9.9" height="9.9" transform="translate(672.7 1842.6) rotate(17.5)"/><rect x="-4.95" y="-4.95" width="9.9" height="9.9" transform="translate(694.8 1847.9) rotate(12.6)"/><rect x="-4.95" y="-4.95" width="9.9" height="9.9" transform="translate(718 1852.7) rotate(8.2)"/><rect x="-4.95" y="-4.95" width="9.9" height="9.9" transform="translate(741.9 1854.6) rotate(7.5)"/><rect x="-4.95" y="-4.95" width="9.9" height="9.9" transform="translate(765.5 1859) rotate(13.8)"/><rect x="-4.95" y="-4.95" width="9.9" height="9.9" transform="translate(788 1866) rotate(9.6)"/><rect x="-4.95" y="-4.95" width="9.9" height="9.9" transform="translate(811.4 1866.7) rotate(5.9)"/><rect x="-4.95" y="-4.95" width="9.9" height="9.9" transform="translate(834.3 1870.8) rotate(6.4)"/><rect x="-4.95" y="-4.95" width="9.9" height="9.9" transform="translate(858.4 1872) rotate(8.1)"/><rect x="-4.95" y="-4.95" width="9.9" height="9.9" transform="translate(881.8 1877.5) rotate(8.7)"/><rect x="-4.95" y="-4.95" width="9.9" height="9.9" transform="translate(905.4 1879.2) rotate(-4.4)"/><rect x="-4.95" y="-4.95" width="9.9" height="9.9" transform="translate(928.8 1873.9) rotate(-6.5)"/><rect x="-4.95" y="-4.95" width="9.9" height="9.9" transform="translate(952 1873.9) rotate(-3.8)"/><rect x="-4.95" y="-4.95" width="9.9" height="9.9" transform="translate(976.1 1870.8) rotate(-10.6)"/><rect x="-4.95" y="-4.95" width="9.9" height="9.9" transform="translate(999.5 1865) rotate(-12)"/><rect x="-4.95" y="-4.95" width="9.9" height="9.9" transform="translate(1023.6 1860.7) rotate(-9.5)"/><rect x="-4.95" y="-4.95" width="9.9" height="9.9" transform="translate(1047 1857) rotate(-8.7)"/><rect x="-4.95" y="-4.95" width="9.9" height="9.9" transform="translate(1070.7 1853.4) rotate(-7.9)"/><rect x="-4.95" y="-4.95" width="9.9" height="9.9" transform="translate(1082 1852.2) rotate(-6.1)"/></g>
<polyline fill="none" stroke="#f5a600" stroke-width="9.8" stroke-linejoin="round" points="160,1820.8 167.2,1813 173.8,1805.7 184.1,1793.7 196.1,1780.4 208.2,1767.1 220.2,1753.9 228.7,1745.4 237.1,1739.4 245.6,1733.4 254,1730.4 260,1723.7 267.3,1718.9 274.5,1711.7 281.8,1705.6 289,1702 295,1697.2 299.8,1690 304.7,1684.5 310.7,1684.5 315.5,1683.3 322.8,1679.1 330,1675.5 337.2,1673.7 344.5,1669.4 351.7,1665.2 358.9,1662.8 365,1658.6 371,1652.6 377,1648.9 380,1645.2 386,1641.6 392.1,1635.6 398.1,1630.2 404.1,1629.6 408.9,1626.5 413.8,1629.6 418.6,1627.7 424.6,1621.1 429.4,1613.9 435.5,1612.7 441.5,1609.7 447.5,1610.9 452.4,1609.7 457.2,1603 460.8,1598.8 465.6,1597.6 470.5,1599.4 475.3,1595.8 480.1,1588.5 483.7,1584.3 489.8,1583.7 495.8,1581.9 501.8,1583.1 506.6,1581.3 512.7,1577.1 518.7,1575.9 524.7,1570.5 529.6,1564.4 533.2,1557.2 535.6,1547.5 540.4,1543.9 545.2,1539.1 550.1,1534.3 553.7,1528.2 557.3,1519.8 562.1,1518 568.1,1520.4 574.2,1517.4 580.2,1512.6 586.2,1505.3 590,1499 596,1496.6 602.1,1495.4 606.9,1491.8 609.3,1482.1 614.1,1480.9 620.2,1480.9 626.2,1477.3 631,1472.5 634.6,1465.2 638.2,1458 643.1,1454.4 647.9,1452 652.7,1447.1 657.5,1442.3 662.4,1438.7 664.8,1430.3 668.4,1427.8 672,1431.5 675.6,1436.3 679.3,1432.7 682.9,1427.8 687.7,1424.8 692.5,1421.8 697.3,1417 702.2,1412.2 705.8,1404.9 710.6,1400.1 715.4,1395.3 717.8,1390.5 723.9,1390.5 728.7,1386.8 733.5,1380.8 738.3,1378.4 742,1373.6 746.8,1370 751.6,1366.3 755.2,1357.9 758.9,1356.7 763.7,1353.1 767.3,1345.8 770.9,1338.6 773.3,1336.2 776.9,1339.8 780.6,1344.6 785.4,1341 790.2,1337.4 796.2,1338.6 801.1,1337.4 801.7,1336.2 806.5,1335 811.4,1338.6 816.2,1340.4 821,1344.6 824,1351.9 827,1356.7 833.1,1359.7 839.1,1361.5 843.9,1365.7 848.7,1372.4 853.6,1379.6 856,1388 858.4,1396.5 863.2,1402.5 866.8,1409.8 870.5,1415.8 875.3,1421.8 880.1,1426.6 883.7,1432.7 888.5,1436.3 891,1444.7 894,1453.2 897,1460.4 901.8,1467.6 905.4,1476.1 909.1,1485.7 912.1,1495.4 917.5,1501.4 922.3,1509.9 925.9,1518.3 926.5,1519.6 930.2,1529.3 933.8,1537.7 939.8,1543.8 942.8,1553.4 945.2,1564.3 948.2,1573.9 953.1,1578.7 956.7,1587.2 961.5,1596.8 967.5,1602.9 972.4,1612.5 976,1621 979.6,1630.6 984.4,1640.3 989.3,1648.7 995.3,1655.9 1001.3,1662 1007.3,1669.2 1012.2,1675.2 1015.8,1683.7 1019.4,1692.1 1024.2,1700.6 1029.1,1707.8 1035.1,1715 1041.1,1722.3 1047.1,1729.5 1053.2,1735.5 1058,1740 1068.3,1752.1 1082,1764.2 1094.8,1775.5"/>
</g>
<circle cx="241" cy="1330.5" r="8" fill="#696969" fill-opacity="0.6"/>
<rect x="200" y="1379.1" width="82" height="9.8" fill="#f5a600"/>
<rect x="204" y="1432" width="9.9" height="9.9" fill="#f5a600"/>
<rect x="228.1" y="1432" width="9.9" height="9.9" fill="#f5a600"/>
<rect x="252.1" y="1432" width="9.9" height="9.9" fill="#f5a600"/>
<rect x="276" y="1432" width="2.2" height="9.9" fill="#f5a600"/>
<text x="305.5" y="1343.3">exp.</text>
<text x="305.5" y="1396.3">IPOL-0.13</text>
<text x="305.5" y="1448.6">μ<tspan font-size="25.5" dy="5.6">ind</tspan></text>
<rect x="172" y="1283" width="911" height="628" fill="none" stroke="#000" stroke-width="4"/>
<rect x="159" y="1857" width="12" height="4"/>
<text x="147.4" y="1873.6" text-anchor="end">0.0</text>
<rect x="159" y="1752" width="12" height="4"/>
<text x="147.4" y="1768.6" text-anchor="end">0.2</text>
<rect x="159" y="1647" width="12" height="4"/>
<text x="147.4" y="1663.6" text-anchor="end">0.4</text>
<rect x="159" y="1542" width="12" height="4"/>
<text x="147.4" y="1558.6" text-anchor="end">0.6</text>
<rect x="159" y="1437" width="12" height="4"/>
<text x="147.4" y="1453.6" text-anchor="end">0.8</text>
<rect x="159" y="1332" width="12" height="4"/>
<text x="147.4" y="1348.6" text-anchor="end">1.0</text>
<g transform="translate(67.3 1779.5) rotate(-90)">
<text x="-1.6" y="0" textLength="98.1" lengthAdjust="spacing">α(ν)n</text>
<text x="92.2" y="15.8" style="font-size:56.6px;stroke-width:0.1px">ʹ</text>
<text x="105.4" y="0" textLength="263.4" lengthAdjust="spacing">(ν) [arb. units]</text>
<text x="43.6" y="0">¯</text>
<text x="123.2" y="0">¯</text>
</g>
<rect x="322" y="1913" width="4" height="12" />
<text x="324" y="1964.6" text-anchor="middle">200</text>
<rect x="491" y="1913" width="4" height="12" />
<text x="493" y="1964.6" text-anchor="middle">400</text>
<rect x="659" y="1913" width="4" height="12" />
<text x="661" y="1964.6" text-anchor="middle">600</text>
<rect x="828" y="1913" width="4" height="12" />
<text x="830" y="1964.6" text-anchor="middle">800</text>
<rect x="997" y="1913" width="4" height="12" />
<text x="999" y="1964.6" text-anchor="middle">1000</text>
<text y="2019.3"><tspan x="548.3">ν</tspan><tspan x="554.3">¯</tspan><tspan x="582.4">[cm</tspan><tspan font-size="25.5" dy="-14.2">−1</tspan><tspan dy="14.2" dx="1">]</tspan></text>
</svg></body></html>
